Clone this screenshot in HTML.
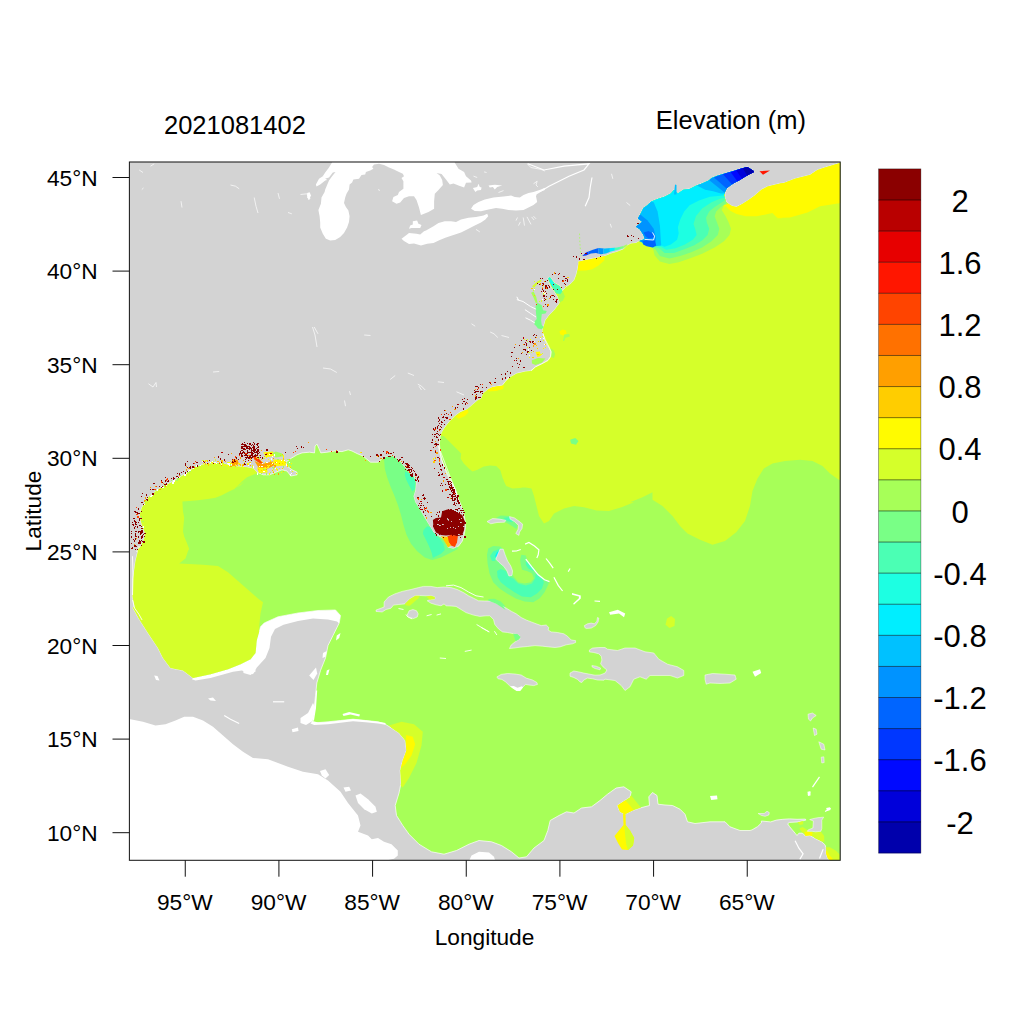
<!DOCTYPE html>
<html lang="en"><head><meta charset="utf-8"><title>Elevation (m) 2021081402</title>
<style>html,body{margin:0;padding:0;background:#fff}svg{display:block}</style></head>
<body>
<svg width="1024" height="1024" viewBox="0 0 1024 1024" font-family="'Liberation Sans', sans-serif">
<rect width="1024" height="1024" fill="#fff"/>
<defs><clipPath id="fr"><rect x="129.40" y="162.00" width="710.80" height="698.30"/></clipPath>
<clipPath id="oc"><path d="M340.5 615.5 L335.5 610.0 L318.0 610.5 L298.0 613.0 L278.0 616.8 L264.2 623.0 L260.5 626.8 L256.8 640.5 L255.5 653.0 L250.5 659.2 L240.5 664.2 L228.0 669.2 L210.5 674.2 L193.0 678.0 L183.0 670.5 L170.5 668.0 L163.0 658.0 L158.0 648.0 L148.0 633.0 L139.2 619.2 L133.0 608.0 L134.2 606.0 L132.5 596.0 L133.0 578.5 L135.5 561.0 L139.2 546.0 L136.8 552.0 L140.5 546.5 L144.2 539.0 L144.9 532.8 L142.4 526.5 L140.5 520.2 L139.9 514.0 L141.8 507.8 L145.5 501.5 L149.2 496.5 L155.5 491.5 L161.8 487.1 L169.2 483.4 L176.8 479.6 L183.0 475.2 L189.2 470.9 L195.5 467.1 L203.0 464.6 L210.5 463.4 L218.0 463.0 L225.5 464.0 L231.8 465.9 L232.0 466.0 L239.5 466.6 L247.0 467.2 L253.2 468.5 L257.0 472.2 L263.2 474.8 L269.5 474.8 L275.8 472.2 L282.0 469.8 L287.0 471.0 L290.8 476.0 L297.0 474.8 L297.0 472.2 L292.0 469.8 L287.0 466.0 L285.8 462.2 L290.8 458.5 L297.0 454.8 L302.0 452.9 L309.5 452.2 L314.5 452.9 L315.1 446.0 L317.0 444.1 L318.9 448.5 L320.8 452.9 L327.0 452.2 L334.5 451.0 L342.0 451.6 L348.2 449.8 L352.0 451.0 L357.0 453.5 L360.0 454.8 L363.0 456.0 L370.5 462.2 L378.0 462.2 L379.8 460.6 L384.8 457.5 L389.8 455.6 L394.8 456.9 L399.8 461.2 L404.8 467.5 L409.8 473.1 L413.5 476.2 L416.0 482.5 L415.4 490.0 L413.5 496.2 L415.4 502.5 L419.1 508.1 L422.2 513.8 L426.0 520.0 L429.8 526.2 L433.5 532.5 L438.5 536.2 L443.5 538.8 L446.0 543.8 L447.9 547.5 L453.5 548.8 L458.5 546.2 L462.2 541.2 L464.1 535.0 L465.4 527.5 L465.0 520.0 L463.5 512.5 L461.0 505.0 L457.9 497.5 L455.4 490.0 L452.2 482.5 L448.5 475.0 L444.8 467.5 L441.6 460.0 L439.8 452.5 L438.5 446.2 L457.5 496.0 L455.0 488.5 L451.2 482.2 L447.5 474.8 L444.4 467.2 L441.9 459.8 L440.0 451.0 L439.4 443.5 L440.0 437.2 L441.9 432.2 L445.0 427.2 L450.0 421.0 L455.0 416.0 L460.0 412.2 L467.5 409.1 L472.5 404.8 L477.5 400.4 L481.2 398.5 L483.1 393.5 L487.5 389.8 L492.5 387.2 L502.5 385.4 L505.0 382.2 L508.8 377.2 L503.0 385.2 L505.5 381.5 L510.5 377.1 L516.8 373.4 L525.5 371.5 L530.5 370.9 L535.5 367.1 L541.8 364.0 L548.0 360.2 L550.5 356.5 L551.1 351.5 L549.2 347.8 L546.8 344.0 L544.9 339.0 L543.6 334.0 L542.4 330.2 L543.6 326.5 L545.5 320.2 L549.2 315.2 L554.2 310.2 L558.0 305.2 L559.9 302.8 L558.0 297.1 L554.9 292.1 L551.1 286.5 L547.8 278.4 L549.9 277.1 L554.2 282.8 L559.9 285.9 L562.6 290.9 L565.5 287.8 L570.5 284.0 L574.2 280.2 L576.1 275.2 L577.4 270.2 L578.6 264.0 L578.5 261.8 L586.0 259.9 L596.0 258.0 L604.8 256.1 L611.0 253.6 L617.2 251.8 L623.5 249.2 L627.2 245.5 L631.0 243.6 L636.0 243.0 L639.8 240.8 L642.2 239.9 L644.8 239.2 L643.5 234.9 L639.8 229.2 L636.0 226.8 L642.2 221.8 L637.9 218.6 L641.0 213.0 L643.5 208.0 L647.4 205.3 L651.3 201.4 L657.6 199.1 L664.6 196.7 L670.9 193.6 L674.0 189.7 L677.9 193.6 L683.4 189.7 L689.6 188.9 L695.9 185.8 L702.1 183.4 L709.2 180.3 L711.5 178.0 L717.8 175.6 L725.6 173.3 L733.4 170.9 L741.2 168.6 L747.4 167.0 L749.8 168.6 L753.7 170.9 L753.7 172.2 L749.0 174.4 L744.3 177.2 L739.6 180.3 L733.4 183.4 L727.1 188.1 L724.8 192.8 L724.8 197.5 L726.3 202.2 L731.8 206.1 L736.5 206.9 L742.8 203.8 L749.0 199.8 L755.2 195.2 L761.5 189.7 L767.8 186.6 L774.0 185.0 L780.2 183.4 L784.0 183.1 L795.0 178.8 L810.0 175.0 L817.5 170.0 L825.0 167.5 L840.0 163.0 L842.0 160.0 L842.0 862.0 L830.7 861.3 L827.9 858.5 L826.1 853.8 L826.1 849.1 L825.1 844.9 L821.4 841.6 L815.7 838.8 L810.1 835.5 L805.4 836.0 L802.6 833.2 L798.9 833.2 L797.0 835.5 L795.1 833.2 L792.3 829.9 L789.5 826.6 L787.6 823.8 L789.5 822.4 L797.9 821.9 L805.9 820.1 L805.4 819.1 L797.0 819.3 L789.5 818.9 L782.9 819.3 L776.4 820.1 L770.7 821.9 L761.4 821.0 L761.4 822.9 L757.6 826.6 L752.0 829.9 L750.0 830.5 L740.0 830.5 L730.0 826.8 L725.0 821.8 L710.0 821.8 L695.0 823.5 L687.5 821.8 L685.0 814.2 L680.0 809.2 L672.5 805.5 L665.0 805.0 L658.0 804.2 L657.0 795.5 L652.5 792.5 L648.8 796.8 L649.5 805.5 L640.0 808.0 L632.5 810.5 L625.0 814.2 L620.0 811.8 L617.5 805.5 L625.0 800.5 L630.0 797.2 L631.2 791.8 L623.8 786.8 L616.2 788.0 L607.5 794.2 L600.0 800.5 L591.5 806.8 L581.5 808.0 L574.0 813.0 L566.5 811.8 L559.0 815.5 L550.2 820.5 L547.8 830.5 L544.0 840.5 L534.0 848.0 L526.5 856.8 L519.0 858.0 L511.5 851.8 L501.5 845.5 L491.5 841.8 L479.0 840.5 L469.0 844.2 L456.5 850.5 L444.0 854.2 L431.5 851.8 L419.0 844.2 L409.0 834.2 L402.8 825.5 L396.5 815.5 L395.2 805.5 L399.0 793.0 L401.0 783.0 L400.2 770.5 L402.8 760.5 L406.5 750.5 L405.2 740.5 L399.0 733.0 L391.5 728.0 L384.0 723.5 L378.0 721.8 L365.5 720.5 L353.0 719.2 L340.5 720.5 L328.0 721.8 L313.0 723.0 L311.8 720.5 L314.2 708.0 L315.5 695.5 L316.8 683.0 L320.5 670.5 L325.5 658.0 L328.0 645.5 L333.0 635.5 L339.2 623.0Z"/></clipPath></defs>
<g clip-path="url(#fr)" shape-rendering="geometricPrecision">
<rect x="129.40" y="162.00" width="710.80" height="698.30" fill="#D3D3D3"/>
<path d="M332.8 161.2 L329.0 167.5 L325.2 172.5 L322.8 176.2 L324.6 178.8 L329.0 177.5 L332.8 172.5 L335.5 171.9 L332.1 176.2 L329.0 180.6 L327.1 185.0 L325.2 189.4 L324.6 191.9 L321.5 197.5 L320.9 203.8 L318.4 210.0 L319.6 216.2 L320.2 222.5 L320.2 227.5 L322.8 233.8 L325.9 238.8 L330.2 240.6 L335.2 240.0 L340.2 236.9 L344.0 233.1 L347.1 227.5 L349.0 221.9 L349.6 216.2 L348.4 210.6 L345.9 206.9 L344.0 203.1 L345.2 197.5 L346.5 193.8 L349.0 189.4 L349.6 184.4 L352.1 182.5 L353.4 179.4 L359.0 178.8 L361.5 175.0 L365.2 174.4 L365.9 171.9 L370.2 170.6 L373.4 168.8 L372.1 166.9 L374.0 164.4 L379.0 163.8 L384.0 165.0 L389.0 167.5 L394.0 169.4 L399.0 171.9 L402.8 173.8 L404.0 176.2 L401.5 178.1 L403.4 181.2 L403.4 188.8 L399.0 191.9 L397.8 195.0 L393.4 196.9 L392.1 201.2 L396.5 203.8 L400.2 202.5 L404.0 198.1 L409.0 196.2 L414.0 196.2 L416.5 200.0 L419.0 207.5 L420.9 215.0 L421.0 215.0 L428.5 211.9 L434.1 208.8 L434.1 201.2 L434.8 193.8 L438.5 190.0 L442.9 185.0 L442.2 180.0 L439.8 175.6 L436.6 173.1 L441.6 174.0 L446.0 179.4 L449.8 184.4 L453.5 183.5 L458.5 185.6 L464.1 187.5 L466.0 182.8 L471.6 182.5 L471.0 180.6 L466.0 176.2 L464.1 171.9 L458.5 168.8 L454.8 162.8 L454.8 161.2Z" fill="#fff"/>
<path d="M315.9 184.4 L319.0 178.8 L322.8 176.2 L327.1 180.0 L325.2 180.6 L320.2 184.4 L316.5 186.5Z" fill="#fff"/>
<path d="M307.1 193.1 L309.6 192.2 L311.0 195.6 L309.0 200.0 L307.2 197.5Z" fill="#fff"/>
<path d="M412.8 221.2 L417.1 220.6 L418.4 223.8 L421.5 225.0 L420.2 228.1 L415.2 228.1 L411.5 228.1 L409.0 228.8 L410.2 225.6 L412.8 224.4Z" fill="#fff"/>
<path d="M401.5 238.8 L406.5 235.0 L409.0 233.1 L416.5 233.8 L420.2 234.4 L424.0 231.2 L426.0 230.6 L433.5 226.2 L438.5 223.1 L444.8 221.2 L451.0 221.2 L456.0 221.9 L461.0 219.4 L468.5 217.8 L476.0 216.9 L483.5 215.6 L487.2 213.8 L488.2 216.2 L485.4 219.4 L481.0 222.5 L474.8 225.6 L468.5 228.8 L461.0 232.5 L453.5 235.0 L446.0 237.5 L439.8 240.0 L433.5 243.1 L427.2 243.8 L421.0 245.6 L414.0 243.4 L409.0 244.0 L404.0 241.0Z" fill="#fff"/>
<path d="M471.0 208.8 L473.5 205.0 L478.5 201.9 L484.8 199.4 L493.5 197.5 L503.5 196.5 L511.0 195.6 L514.8 196.9 L519.8 197.5 L523.5 195.0 L528.5 193.1 L533.5 191.9 L541.0 189.4 L544.8 187.8 L544.8 190.0 L537.2 193.1 L536.0 196.2 L537.2 201.9 L533.5 205.0 L528.5 207.5 L523.5 210.0 L516.0 210.6 L508.5 210.0 L502.2 208.8 L496.0 208.1 L488.5 209.4 L481.0 211.2 L474.8 211.0Z" fill="#fff"/>
<path d="M472.9 188.1 L477.2 186.9 L478.5 183.8 L479.8 186.9 L481.6 187.5 L481.0 190.0 L477.2 190.6 L475.4 191.9 L474.1 190.0Z" fill="#fff"/>
<path d="M488.5 185.6 L494.8 184.8 L502.2 185.4 L497.2 186.9 L494.8 189.4 L492.9 186.9 L489.8 187.5Z" fill="#fff"/>
<path d="M125.5 719.2 L130.5 719.2 L143.0 721.8 L155.5 725.5 L165.5 724.2 L175.5 720.5 L184.2 716.8 L193.0 716.8 L203.0 720.5 L213.0 726.8 L223.0 735.5 L233.0 744.2 L243.0 751.8 L253.0 758.0 L268.0 759.2 L278.0 763.0 L288.0 766.8 L303.0 771.8 L318.0 774.2 L328.0 780.5 L340.5 791.8 L348.0 803.0 L358.0 815.5 L360.5 825.5 L358.0 831.8 L368.0 835.5 L371.8 839.2 L378.0 838.0 L384.0 841.8 L391.5 844.2 L397.8 850.5 L397.8 855.5 L394.0 858.8 L384.0 861.0 L125.5 863.0Z" fill="#fff"/>
<path d="M469.0 861.0 L471.5 855.5 L479.0 851.8 L489.0 852.5 L494.0 856.8 L495.2 861.0Z" fill="#fff"/>
<path d="M340.5 615.5 L335.5 610.0 L318.0 610.5 L298.0 613.0 L278.0 616.8 L264.2 623.0 L260.5 626.8 L256.8 640.5 L255.5 653.0 L250.5 659.2 L240.5 664.2 L228.0 669.2 L210.5 674.2 L193.0 678.0 L191.8 679.2 L195.5 680.5 L210.5 678.0 L233.0 671.8 L241.8 670.5 L253.0 674.2 L256.8 667.5 L265.5 658.0 L269.5 648.0 L271.0 636.8 L275.0 629.0 L283.5 624.8 L298.0 621.0 L313.0 618.5 L328.0 619.5 L337.0 621.5 L339.2 623.5Z" fill="#fff"/>
<path d="M340.5 615.5 L335.5 610.0 L318.0 610.5 L298.0 613.0 L278.0 616.8 L264.2 623.0 L260.5 626.8 L256.8 640.5 L255.5 653.0 L250.5 659.2 L240.5 664.2 L228.0 669.2 L210.5 674.2 L193.0 678.0 L183.0 670.5 L170.5 668.0 L163.0 658.0 L158.0 648.0 L148.0 633.0 L139.2 619.2 L133.0 608.0 L134.2 606.0 L132.5 596.0 L133.0 578.5 L135.5 561.0 L139.2 546.0 L136.8 552.0 L140.5 546.5 L144.2 539.0 L144.9 532.8 L142.4 526.5 L140.5 520.2 L139.9 514.0 L141.8 507.8 L145.5 501.5 L149.2 496.5 L155.5 491.5 L161.8 487.1 L169.2 483.4 L176.8 479.6 L183.0 475.2 L189.2 470.9 L195.5 467.1 L203.0 464.6 L210.5 463.4 L218.0 463.0 L225.5 464.0 L231.8 465.9 L232.0 466.0 L239.5 466.6 L247.0 467.2 L253.2 468.5 L257.0 472.2 L263.2 474.8 L269.5 474.8 L275.8 472.2 L282.0 469.8 L287.0 471.0 L290.8 476.0 L297.0 474.8 L297.0 472.2 L292.0 469.8 L287.0 466.0 L285.8 462.2 L290.8 458.5 L297.0 454.8 L302.0 452.9 L309.5 452.2 L314.5 452.9 L315.1 446.0 L317.0 444.1 L318.9 448.5 L320.8 452.9 L327.0 452.2 L334.5 451.0 L342.0 451.6 L348.2 449.8 L352.0 451.0 L357.0 453.5 L360.0 454.8 L363.0 456.0 L370.5 462.2 L378.0 462.2 L379.8 460.6 L384.8 457.5 L389.8 455.6 L394.8 456.9 L399.8 461.2 L404.8 467.5 L409.8 473.1 L413.5 476.2 L416.0 482.5 L415.4 490.0 L413.5 496.2 L415.4 502.5 L419.1 508.1 L422.2 513.8 L426.0 520.0 L429.8 526.2 L433.5 532.5 L438.5 536.2 L443.5 538.8 L446.0 543.8 L447.9 547.5 L453.5 548.8 L458.5 546.2 L462.2 541.2 L464.1 535.0 L465.4 527.5 L465.0 520.0 L463.5 512.5 L461.0 505.0 L457.9 497.5 L455.4 490.0 L452.2 482.5 L448.5 475.0 L444.8 467.5 L441.6 460.0 L439.8 452.5 L438.5 446.2 L457.5 496.0 L455.0 488.5 L451.2 482.2 L447.5 474.8 L444.4 467.2 L441.9 459.8 L440.0 451.0 L439.4 443.5 L440.0 437.2 L441.9 432.2 L445.0 427.2 L450.0 421.0 L455.0 416.0 L460.0 412.2 L467.5 409.1 L472.5 404.8 L477.5 400.4 L481.2 398.5 L483.1 393.5 L487.5 389.8 L492.5 387.2 L502.5 385.4 L505.0 382.2 L508.8 377.2 L503.0 385.2 L505.5 381.5 L510.5 377.1 L516.8 373.4 L525.5 371.5 L530.5 370.9 L535.5 367.1 L541.8 364.0 L548.0 360.2 L550.5 356.5 L551.1 351.5 L549.2 347.8 L546.8 344.0 L544.9 339.0 L543.6 334.0 L542.4 330.2 L543.6 326.5 L545.5 320.2 L549.2 315.2 L554.2 310.2 L558.0 305.2 L559.9 302.8 L558.0 297.1 L554.9 292.1 L551.1 286.5 L547.8 278.4 L549.9 277.1 L554.2 282.8 L559.9 285.9 L562.6 290.9 L565.5 287.8 L570.5 284.0 L574.2 280.2 L576.1 275.2 L577.4 270.2 L578.6 264.0 L578.5 261.8 L586.0 259.9 L596.0 258.0 L604.8 256.1 L611.0 253.6 L617.2 251.8 L623.5 249.2 L627.2 245.5 L631.0 243.6 L636.0 243.0 L639.8 240.8 L642.2 239.9 L644.8 239.2 L643.5 234.9 L639.8 229.2 L636.0 226.8 L642.2 221.8 L637.9 218.6 L641.0 213.0 L643.5 208.0 L647.4 205.3 L651.3 201.4 L657.6 199.1 L664.6 196.7 L670.9 193.6 L674.0 189.7 L677.9 193.6 L683.4 189.7 L689.6 188.9 L695.9 185.8 L702.1 183.4 L709.2 180.3 L711.5 178.0 L717.8 175.6 L725.6 173.3 L733.4 170.9 L741.2 168.6 L747.4 167.0 L749.8 168.6 L753.7 170.9 L753.7 172.2 L749.0 174.4 L744.3 177.2 L739.6 180.3 L733.4 183.4 L727.1 188.1 L724.8 192.8 L724.8 197.5 L726.3 202.2 L731.8 206.1 L736.5 206.9 L742.8 203.8 L749.0 199.8 L755.2 195.2 L761.5 189.7 L767.8 186.6 L774.0 185.0 L780.2 183.4 L784.0 183.1 L795.0 178.8 L810.0 175.0 L817.5 170.0 L825.0 167.5 L840.0 163.0 L842.0 160.0 L842.0 862.0 L830.7 861.3 L827.9 858.5 L826.1 853.8 L826.1 849.1 L825.1 844.9 L821.4 841.6 L815.7 838.8 L810.1 835.5 L805.4 836.0 L802.6 833.2 L798.9 833.2 L797.0 835.5 L795.1 833.2 L792.3 829.9 L789.5 826.6 L787.6 823.8 L789.5 822.4 L797.9 821.9 L805.9 820.1 L805.4 819.1 L797.0 819.3 L789.5 818.9 L782.9 819.3 L776.4 820.1 L770.7 821.9 L761.4 821.0 L761.4 822.9 L757.6 826.6 L752.0 829.9 L750.0 830.5 L740.0 830.5 L730.0 826.8 L725.0 821.8 L710.0 821.8 L695.0 823.5 L687.5 821.8 L685.0 814.2 L680.0 809.2 L672.5 805.5 L665.0 805.0 L658.0 804.2 L657.0 795.5 L652.5 792.5 L648.8 796.8 L649.5 805.5 L640.0 808.0 L632.5 810.5 L625.0 814.2 L620.0 811.8 L617.5 805.5 L625.0 800.5 L630.0 797.2 L631.2 791.8 L623.8 786.8 L616.2 788.0 L607.5 794.2 L600.0 800.5 L591.5 806.8 L581.5 808.0 L574.0 813.0 L566.5 811.8 L559.0 815.5 L550.2 820.5 L547.8 830.5 L544.0 840.5 L534.0 848.0 L526.5 856.8 L519.0 858.0 L511.5 851.8 L501.5 845.5 L491.5 841.8 L479.0 840.5 L469.0 844.2 L456.5 850.5 L444.0 854.2 L431.5 851.8 L419.0 844.2 L409.0 834.2 L402.8 825.5 L396.5 815.5 L395.2 805.5 L399.0 793.0 L401.0 783.0 L400.2 770.5 L402.8 760.5 L406.5 750.5 L405.2 740.5 L399.0 733.0 L391.5 728.0 L384.0 723.5 L378.0 721.8 L365.5 720.5 L353.0 719.2 L340.5 720.5 L328.0 721.8 L313.0 723.0 L311.8 720.5 L314.2 708.0 L315.5 695.5 L316.8 683.0 L320.5 670.5 L325.5 658.0 L328.0 645.5 L333.0 635.5 L339.2 623.0Z" fill="#A7FF58" stroke="#fff" stroke-width="0.7"/>
<g clip-path="url(#oc)">
<path d="M257.0 472.9 L253.2 474.8 L247.0 477.2 L242.0 481.6 L237.0 486.6 L232.0 491.0 L250.5 476.5 L245.5 480.2 L240.5 485.2 L234.2 489.0 L228.0 492.1 L221.8 495.2 L215.5 497.8 L208.0 499.0 L198.0 500.2 L189.2 500.9 L182.4 501.5 L183.0 511.5 L184.2 517.8 L183.6 524.0 L183.0 531.5 L184.2 536.5 L186.8 542.8 L189.2 549.0 L188.0 551.0 L185.5 558.5 L179.2 563.5 L203.0 564.8 L218.0 566.0 L228.0 572.2 L238.0 581.0 L248.0 589.8 L258.0 598.5 L263.0 602.2 L260.5 613.5 L259.2 626.0 L259.2 633.5 L256.8 640.5 L256.8 670.5 L228.0 683.0 L178.0 690.5 L128.0 658.0 L123.0 591.0 L123.0 453.5 L190.5 446.0 L240.5 446.0 L255.5 461.0Z" fill="#D5FF2A"/>
<path d="M437.5 434.8 L440.6 436.0 L443.8 436.0 L447.5 439.8 L452.5 444.8 L457.5 449.8 L461.2 453.5 L460.6 458.5 L463.8 463.5 L468.8 468.5 L472.5 471.6 L477.5 469.8 L483.8 466.6 L490.0 465.4 L496.2 466.0 L500.0 469.8 L502.5 474.8 L503.8 481.0 L506.2 486.0 L512.5 488.5 L520.0 487.9 L528.0 486.6 L500.2 469.8 L502.8 478.5 L506.5 484.8 L514.0 488.5 L524.0 487.2 L531.5 488.5 L534.0 496.0 L536.5 506.0 L539.0 516.0 L544.0 523.5 L549.0 521.0 L554.0 513.5 L564.0 508.5 L574.0 506.0 L584.0 507.2 L596.5 510.5 L609.0 511.0 L621.5 507.2 L634.0 502.2 L630.0 502.2 L642.5 497.2 L652.5 492.2 L652.5 499.8 L662.5 506.0 L672.5 516.0 L680.0 526.0 L687.5 533.5 L700.0 539.8 L712.5 544.8 L725.0 541.0 L736.2 532.2 L745.0 521.0 L750.0 506.0 L752.5 491.0 L757.5 478.5 L763.8 468.5 L772.5 463.5 L785.0 461.0 L800.0 459.8 L812.5 461.0 L822.5 466.0 L830.0 473.5 L838.8 479.8 L845.0 480.5 L845.0 150.0 L440.0 150.0 L400.0 420.0Z" fill="#D5FF2A"/>
<path d="M722.4 206.9 L725.6 206.1 L730.2 210.8 L736.5 213.9 L745.9 216.2 L756.8 216.2 L764.6 214.7 L772.4 213.1 L777.1 217.8 L784.0 218.6 L775.0 218.0 L790.0 217.5 L807.5 212.5 L820.0 206.2 L845.0 202.5 L845.0 160.0 L750.0 160.0 L752.1 169.4 L724.0 191.2Z" fill="#FFFB00"/>
<path d="M652.9 247.5 L654.5 255.3 L659.9 261.6 L669.3 263.9 L678.7 262.3 L689.6 258.4 L702.1 253.8 L714.6 247.5 L724.0 241.2 L729.5 235.0 L731.0 228.8 L728.7 222.5 L725.6 216.2 L721.7 210.0 L724.0 205.3 L727.9 203.8 L724.0 195.2 L727.1 183.4 L756.8 164.7 L702.1 169.4 L663.1 188.1 L633.4 211.6 L630.2 230.3 L643.5 244.1Z" fill="#A7FF58"/>
<path d="M655.2 249.1 L659.9 256.1 L669.3 258.4 L680.2 256.1 L691.2 252.2 L702.1 247.5 L711.5 241.2 L717.8 235.0 L719.3 228.8 L717.0 222.5 L714.6 216.2 L716.2 211.6 L720.9 206.9 L726.3 203.0 L724.0 195.2 L727.1 183.4 L756.8 164.7 L702.1 169.4 L663.1 188.1 L633.4 211.6 L630.2 230.3 L643.5 244.1Z" fill="#79FF86"/>
<path d="M659.2 248.3 L664.6 253.0 L674.0 253.0 L684.9 249.1 L694.3 245.2 L702.1 240.5 L707.6 235.0 L709.2 228.8 L706.8 222.5 L706.0 217.8 L709.2 211.6 L714.6 206.9 L720.9 203.0 L725.6 199.8 L724.0 195.2 L727.1 183.4 L756.8 164.7 L702.1 169.4 L663.1 188.1 L633.4 211.6 L630.2 230.3 L643.5 244.1Z" fill="#4BFFB4"/>
<path d="M660.7 246.7 L666.2 249.8 L675.6 248.3 L684.9 244.4 L692.8 239.7 L696.7 235.0 L695.1 228.8 L693.5 224.1 L695.9 216.2 L702.1 208.4 L711.5 202.2 L719.3 199.1 L724.8 197.5 L724.0 195.2 L727.1 183.4 L756.8 164.7 L702.1 169.4 L663.1 188.1 L633.4 211.6 L630.2 230.3 L643.5 244.1Z" fill="#1DFFE2"/>
<path d="M660.7 245.2 L664.6 246.7 L670.9 244.4 L677.1 239.7 L678.7 233.4 L677.9 227.2 L680.2 219.4 L684.2 211.6 L689.6 205.3 L699.0 200.6 L709.9 196.7 L717.8 195.9 L724.8 195.2 L724.0 195.2 L727.1 183.4 L756.8 164.7 L702.1 169.4 L663.1 188.1 L633.4 211.6 L630.2 230.3 L643.5 244.1Z" fill="#00EEFF"/>
<path d="M653.7 202.2 L657.6 211.6 L659.9 225.6 L661.2 245.6 L655.2 246.2 L645.9 243.6 L639.6 241.2 L630.2 230.3 L630.2 214.7 L642.8 199.1Z" fill="#00C1FF"/>
<path d="M639.6 213.9 L647.4 220.2 L653.7 228.8 L656.0 238.1 L655.2 246.2 L645.9 243.6 L639.6 241.2 L630.2 230.3 L630.2 214.7Z" fill="#0093FF"/>
<path d="M697.4 185.8 L705.2 189.7 L713.1 191.2 L720.9 193.6 L725.6 193.6 L733.4 185.0 L764.6 163.1 L764.6 156.9 L733.4 156.9 L694.3 175.6Z" fill="#00C1FF"/>
<path d="M708.4 179.5 L724.8 192.8 L771.7 175.6 L755.2 162.3Z" fill="#0093FF"/>
<path d="M713.8 177.2 L727.1 188.9 L774.0 171.7 L760.7 160.0Z" fill="#0065FF"/>
<path d="M722.8 174.1 L732.6 185.0 L779.5 167.8 L769.6 156.9Z" fill="#0037FF"/>
<path d="M730.7 172.2 L738.1 182.2 L784.9 165.0 L777.6 155.0Z" fill="#0009FF"/>
<path d="M736.2 170.2 L742.8 180.0 L789.6 162.8 L783.1 153.0Z" fill="#0000DA"/>
<path d="M742.4 167.8 L748.2 176.9 L795.1 159.7 L789.3 150.6Z" fill="#0000AC"/>
<path d="M634.8 226.8 L639.8 223.6 L644.8 224.2 L649.1 228.0 L652.9 232.4 L654.8 236.8 L655.4 239.9 L647.2 239.0 L643.5 234.9 L639.8 229.2Z" fill="#0093FF"/>
<path d="M643.5 232.4 L648.5 231.1 L652.9 233.6 L654.1 237.4 L648.5 238.5 L645.4 236.1Z" fill="#0065FF"/>
<path d="M642.5 241.5 L646.0 240.2 L654.8 240.5 L656.2 245.5 L652.9 247.5 L646.6 246.2 L643.2 244.5Z" fill="#0065FF"/>
<path d="M644.5 239.4 L653.5 240.0 L654.6 236.2 L652.5 232.5" fill="none" stroke="#fff" stroke-width="0.9"/>
<path d="M577.9 261.1 L586.0 259.5 L596.0 257.6 L605.0 256.1 L604.1 260.5 L598.5 265.5 L592.2 269.2 L586.0 270.5 L577.9 270.8Z" fill="#FFFB00"/>
<path d="M558.6 292.1 L563.0 292.1 L564.9 296.5 L563.0 300.2 L559.9 302.8 L558.2 299.0Z" fill="#A7FF58"/>
<path d="M550.5 282.8 L554.2 282.8 L559.9 285.9 L562.6 290.9 L560.5 294.0 L556.1 293.4 L552.4 287.8Z" fill="#4BFFB4"/>
<path d="M547.4 277.1 L550.5 277.1 L554.9 284.0 L552.4 287.1 L549.9 282.8Z" fill="#1DFFE2"/>
<path d="M549.9 347.8 L553.6 350.2 L555.1 354.0 L553.9 358.0 L551.1 357.1 L551.1 351.5Z" fill="#A7FF58"/>
<path d="M559.5 331.5 L562.4 329.6 L566.1 330.5 L566.5 334.0 L563.0 335.5 L560.2 334.2Z" fill="#FFFB00"/>
<path d="M564.2 334.6 L569.2 334.0 L569.9 336.5 L565.5 337.8 L564.2 340.9 L563.0 340.9Z" fill="#A7FF58"/>
<path d="M488.0 387.8 L495.5 385.9 L503.6 385.5 L503.0 389.0 L495.5 390.9 L488.0 391.5Z" fill="#FFFB00"/>
<path d="M455.6 416.6 L460.0 412.9 L467.5 409.5 L468.5 412.2 L465.0 416.0 L458.8 418.8Z" fill="#FFFB00"/>
<path d="M489.4 388.5 L495.0 386.6 L504.0 385.8 L502.8 388.5 L496.2 390.8 L491.9 390.0Z" fill="#FFFB00"/>
<path d="M368.5 458.8 L384.1 460.0 L384.8 468.8 L387.2 477.5 L390.4 486.2 L394.1 495.0 L397.9 505.0 L401.0 515.0 L403.5 525.0 L406.6 535.0 L411.0 543.8 L417.2 551.2 L424.8 557.5 L432.2 560.0 L441.0 557.5 L451.0 552.5 L457.9 549.0 L456.0 540.0 L446.0 527.5 L432.2 502.5 L426.0 477.5 L407.2 453.8 L376.0 447.5Z" fill="#79FF86"/>
<path d="M404.8 471.2 L409.8 473.8 L413.5 476.9 L415.0 482.5 L414.4 490.0 L411.6 488.8 L408.5 482.5 L406.0 477.5Z" fill="#4BFFB4"/>
<path d="M423.5 530.0 L427.2 526.2 L431.0 527.5 L434.8 533.8 L439.8 538.8 L443.5 543.8 L444.8 550.0 L441.0 553.8 L436.0 556.2 L432.9 558.1 L431.6 552.5 L428.5 545.0 L425.4 538.8 L422.9 533.8Z" fill="#4BFFB4"/>
<path d="M405.0 472.2 L408.8 473.2 L412.5 475.4 L415.0 479.8 L414.8 488.5 L412.5 491.6 L409.4 486.0 L406.2 479.8 L404.8 474.8Z" fill="#4BFFB4"/>
<path d="M488.2 548.5 L493.2 546.0 L500.1 546.6 L503.2 549.1 L513.2 576.0 L518.2 582.2 L524.5 583.5 L530.8 582.2 L533.9 578.5 L532.0 573.5 L527.0 571.0 L522.0 569.8 L520.8 564.8 L520.1 559.8 L521.4 554.8 L525.8 555.4 L527.0 559.8 L530.8 564.1 L534.5 568.5 L538.2 573.5 L543.2 578.5 L549.5 581.6 L548.2 584.8 L544.5 592.2 L539.5 598.5 L533.2 602.2 L524.5 601.6 L515.8 598.5 L507.0 593.5 L499.5 588.5 L493.2 582.2 L489.5 573.5 L487.6 563.5 L487.0 554.8Z" fill="#79FF86"/>
<path d="M497.0 571.0 L500.8 569.1 L505.8 571.0 L508.2 576.0 L513.2 578.5 L518.2 583.5 L525.8 585.4 L532.0 583.5 L535.1 578.5 L535.8 573.5 L542.0 578.5 L543.9 582.2 L542.0 588.5 L537.0 593.5 L530.8 597.2 L522.0 596.6 L514.5 592.2 L507.0 587.2 L500.8 582.2 L497.6 577.2Z" fill="#4BFFB4"/>
<path d="M490.1 556.0 L493.2 551.6 L498.9 549.1 L500.5 551.0 L497.0 556.0 L495.1 561.0 L492.0 561.0Z" fill="#4BFFB4"/>
<path d="M495.1 556.0 L497.0 552.2 L499.8 550.4 L498.9 554.1 L496.4 557.9Z" fill="#00EEFF"/>
<path d="M525.8 561.0 L529.5 564.1 L534.5 569.8 L533.2 571.0 L528.2 568.5 L525.8 564.8Z" fill="#4BFFB4"/>
<path d="M495.8 517.9 L500.8 515.4 L509.5 516.0 L514.5 521.0 L517.6 526.0 L516.4 529.1 L512.0 526.0 L507.0 522.9 L502.0 520.4Z" fill="#79FF86"/>
<path d="M503.2 517.9 L509.5 517.0 L513.2 520.4 L512.0 522.2 L507.0 521.0Z" fill="#4BFFB4"/>
<path d="M488.2 599.1 L494.5 598.8 L500.8 601.6 L505.1 606.0 L504.8 609.1 L500.1 604.8 L494.5 601.6 L488.9 600.8Z" fill="#79FF86"/>
<path d="M570.2 439.8 L575.2 438.0 L578.5 441.0 L576.0 444.8 L571.0 443.5Z" fill="#79FF86"/>
<path d="M667.0 618.5 L671.2 616.0 L675.0 619.0 L674.5 626.0 L669.5 628.0 L665.5 624.8Z" fill="#D5FF2A"/>
<path d="M389.0 725.5 L401.5 721.8 L414.0 724.2 L422.8 731.8 L421.5 745.5 L416.5 763.0 L409.0 778.0 L402.8 787.5 L397.8 783.0 L396.5 758.0 L401.5 738.0Z" fill="#D5FF2A"/>
<path d="M406.0 735.0 L412.8 736.8 L415.2 744.2 L411.5 755.5 L405.2 764.2 L399.5 769.2 L402.0 758.0 L406.0 748.0Z" fill="#FFFB00"/>
<path d="M615.0 805.5 L625.0 798.5 L631.2 795.5 L641.2 808.0 L632.5 811.8 L625.0 815.5 L618.8 813.0Z" fill="#D5FF2A"/>
<path d="M616.2 805.5 L625.0 800.0 L630.0 805.5 L633.8 810.5 L625.0 815.5 L618.8 813.0Z" fill="#FFFB00"/>
<path d="M797.5 821.9 L803.1 821.0 L803.1 824.3 L799.8 824.9Z" fill="#D5FF2A"/>
<path d="M799.3 828.5 L802.6 827.1 L807.3 829.9 L808.2 832.2 L802.6 832.7Z" fill="#D5FF2A"/>
<path d="M804.0 832.2 L808.2 831.3 L812.9 832.2 L812.9 836.0 L810.1 836.0 L805.4 836.0Z" fill="#FFFB00"/>
<path d="M812.9 832.2 L820.9 831.8 L824.2 836.0 L824.2 841.6 L821.4 841.6 L815.7 838.8 L812.0 836.0Z" fill="#D5FF2A"/>
<path d="M825.1 847.2 L829.8 847.2 L836.4 851.0 L839.7 854.7 L839.7 860.4 L827.0 860.4Z" fill="#D5FF2A"/>
<path d="M824.7 851.0 L827.0 851.0 L829.8 855.7 L832.6 858.5 L832.2 860.4 L827.0 860.4Z" fill="#FFFB00"/>
</g>
<path d="M376.0 610.1 L381.0 608.2 L384.1 607.0 L384.1 602.0 L388.5 597.0 L394.8 593.9 L402.2 591.4 L411.0 589.5 L418.5 587.6 L423.5 586.4 L431.0 586.4 L437.2 587.6 L443.5 587.0 L451.0 587.6 L457.2 589.5 L463.5 592.6 L468.5 595.8 L473.5 598.2 L478.5 600.8 L484.8 601.0 L491.0 601.0 L496.0 603.2 L501.0 605.8 L506.2 608.1 L511.2 611.2 L516.2 613.8 L521.2 617.5 L526.2 620.0 L531.2 621.9 L536.2 623.8 L541.2 625.6 L546.2 625.0 L548.8 627.5 L548.1 630.0 L551.2 631.9 L557.5 632.5 L563.8 633.8 L567.5 636.2 L571.2 640.0 L575.6 640.6 L575.6 642.5 L572.5 643.8 L566.2 644.8 L560.0 646.9 L555.0 647.5 L548.8 646.9 L542.5 646.2 L535.0 645.6 L527.5 646.5 L520.0 647.2 L513.8 648.1 L509.4 648.5 L511.2 645.0 L515.0 641.9 L520.0 638.8 L518.8 635.0 L513.8 633.8 L507.5 632.5 L502.5 631.9 L498.5 628.9 L494.8 624.5 L493.5 619.5 L489.8 615.8 L486.0 615.8 L479.8 616.4 L473.5 615.1 L466.0 612.6 L461.0 609.5 L456.0 606.4 L451.0 606.0 L446.0 605.8 L444.1 603.9 L441.0 605.8 L436.0 604.8 L431.0 603.2 L427.2 600.8 L429.8 599.8 L434.8 598.9 L434.8 597.0 L431.0 595.8 L426.0 595.8 L419.8 595.5 L415.4 595.8 L409.8 598.9 L404.8 603.9 L398.5 604.5 L393.5 605.1 L391.0 608.2 L386.0 609.5 L382.2 612.0 L376.0 611.4Z" fill="#D3D3D3" stroke="#fff" stroke-width="0.5"/>
<path d="M409.1 610.8 L412.9 609.5 L416.6 610.8 L418.2 613.9 L417.2 617.0 L413.5 618.5 L409.8 617.6 L407.2 615.1Z" fill="#D3D3D3" stroke="#fff" stroke-width="0.5"/>
<path d="M589.4 650.0 L592.5 648.1 L598.8 647.5 L605.0 647.5 L607.5 649.2 L617.5 650.5 L625.0 648.0 L635.0 648.0 L645.0 651.8 L653.8 653.0 L658.8 659.2 L667.5 664.2 L677.5 666.8 L683.8 670.5 L683.8 675.5 L677.5 678.0 L670.0 675.5 L660.0 675.5 L650.0 675.5 L646.2 679.2 L640.0 676.8 L633.8 679.2 L630.0 686.8 L625.0 690.5 L621.2 685.5 L615.0 680.5 L605.0 679.2 L603.8 680.2 L597.5 680.0 L592.5 678.8 L587.5 678.1 L583.8 680.0 L581.9 682.5 L580.0 681.9 L577.5 679.4 L573.8 677.5 L570.0 676.2 L570.0 673.1 L573.8 671.0 L578.8 671.9 L583.8 673.1 L588.8 674.0 L595.0 675.2 L600.0 675.0 L605.0 673.1 L606.9 670.0 L603.1 666.9 L600.6 663.8 L601.9 660.0 L601.2 656.2 L598.8 653.8 L593.8 652.5 L589.4 651.9Z" fill="#D3D3D3" stroke="#fff" stroke-width="0.5"/>
<path d="M591.9 665.6 L596.2 666.2 L600.6 668.1 L600.0 669.8 L595.0 668.5 L592.1 666.9Z" fill="#D3D3D3" stroke="#fff" stroke-width="0.5"/>
<path d="M705.0 675.0 L712.5 673.5 L725.0 674.2 L735.0 675.0 L736.2 679.2 L730.0 683.0 L720.0 683.5 L710.0 683.0 L706.2 684.2 L705.0 679.2Z" fill="#D3D3D3" stroke="#fff" stroke-width="0.5"/>
<path d="M496.9 676.9 L501.2 674.4 L507.5 673.5 L515.0 674.0 L521.2 675.0 L526.2 678.1 L532.5 680.0 L536.9 682.5 L537.5 684.4 L533.8 685.6 L528.8 685.0 L525.6 684.4 L522.5 687.5 L520.0 690.6 L516.9 690.6 L513.1 688.1 L509.4 685.6 L505.6 681.9 L501.9 679.4 L498.1 678.8Z" fill="#D3D3D3" stroke="#fff" stroke-width="0.5"/>
<path d="M809.7 819.6 L812.9 818.7 L817.6 817.7 L823.7 817.2 L821.8 820.1 L821.8 828.5 L820.9 831.3 L815.7 831.8 L812.0 831.3 L807.3 831.3 L808.2 829.9 L812.9 828.0 L813.4 821.0Z" fill="#D3D3D3" stroke="#fff" stroke-width="0.5"/>
<path d="M758.1 813.5 L764.2 813.5 L767.0 811.2 L769.3 812.6 L768.9 814.9 L765.1 816.3 L761.4 815.4Z" fill="#D3D3D3" stroke="#fff" stroke-width="0.5"/>
<path d="M500.1 549.1 L503.2 549.1 L505.1 554.8 L507.6 561.0 L510.8 566.0 L512.6 571.0 L512.0 575.4 L508.9 576.0 L507.0 571.0 L503.9 566.6 L498.9 562.2 L495.8 559.1 L497.6 554.8Z" fill="#D3D3D3" stroke="#fff" stroke-width="0.5"/>
<path d="M487.0 521.6 L492.6 518.5 L499.5 519.1 L505.8 520.4 L504.5 522.2 L497.0 522.5 L490.8 523.8Z" fill="#D3D3D3" stroke="#fff" stroke-width="0.5"/>
<path d="M509.5 516.6 L514.5 517.9 L519.5 521.6 L522.6 524.1 L522.0 528.5 L519.5 532.2 L518.9 535.4 L515.8 533.5 L518.2 529.1 L518.5 525.4 L514.5 521.6 L510.1 519.1Z" fill="#D3D3D3" stroke="#fff" stroke-width="0.5"/>
<path d="M584.4 625.6 L587.5 623.8 L591.2 623.1 L594.4 623.8 L596.9 621.2 L597.5 617.5 L598.8 618.1 L598.1 621.9 L595.6 625.6 L591.2 628.1 L586.2 628.5 L584.8 627.5Z" fill="#D3D3D3" stroke="#fff" stroke-width="0.5"/>
<path d="M808.0 714.2 L812.5 713.0 L816.2 715.5 L812.5 718.0 L810.5 721.0 L808.5 719.2Z" fill="#D3D3D3" stroke="#fff" stroke-width="0.5"/>
<path d="M813.2 728.0 L816.2 729.2 L817.0 734.2 L814.5 735.5Z" fill="#D3D3D3" stroke="#fff" stroke-width="0.5"/>
<path d="M818.8 741.8 L823.8 744.2 L825.0 750.0 L821.2 749.2Z" fill="#D3D3D3" stroke="#fff" stroke-width="0.5"/>
<path d="M821.2 757.2 L823.8 756.8 L824.2 762.5 L821.8 763.0Z" fill="#D3D3D3" stroke="#fff" stroke-width="0.5"/>
<path d="M312.5 721.0 L318.0 722.5 L328.0 722.0 L340.5 720.5 L353.0 719.0 L365.5 720.2 L378.0 721.8 L385.5 723.0 L385.5 724.8 L378.0 723.5 L365.5 722.2 L353.0 721.2 L340.5 722.8 L328.0 724.2 L314.2 725.0 L310.5 723.5Z" fill="#fff"/>
<path d="M342.5 714.0 L349.2 712.0 L360.0 714.5 L359.2 716.5 L350.5 714.5 L343.5 716.0Z" fill="#fff"/>
<path d="M316.0 690.5 L317.2 690.5 L316.0 708.0 L314.0 720.5 L312.5 721.0 L314.2 708.0Z" fill="#fff"/>
<path d="M355.5 795.5 L360.5 793.5 L368.0 799.2 L375.5 806.8 L376.8 811.8 L371.8 813.5 L364.2 809.2 L358.0 803.0Z" fill="#fff"/>
<path d="M343.5 787.5 L349.2 786.8 L351.0 790.5 L345.5 791.8Z" fill="#fff"/>
<path d="M300.5 718.0 L308.0 713.0 L313.0 703.0 L315.5 708.0 L312.5 721.0 L306.0 725.0 L300.5 723.0Z" fill="#fff"/>
<path d="M309.2 675.5 L316.0 667.5 L317.2 673.5 L313.5 680.0Z" fill="#fff"/>
<path d="M291.8 729.2 L298.0 727.5 L298.5 731.0 L292.5 732.2Z" fill="#fff"/>
<path d="M243.0 669.2 L251.8 667.5 L256.0 671.0 L250.5 675.0 L243.5 673.0Z" fill="#fff"/>
<path d="M154.2 675.5 L157.5 676.0 L159.5 680.5 L156.0 680.0Z" fill="#fff"/>
<path d="M208.0 698.5 L213.0 697.5 L216.0 701.0 L210.5 700.5Z" fill="#fff"/>
<path d="M320.0 771.0 L325.5 769.2 L329.2 775.0 L325.5 778.5 L321.8 775.5Z" fill="#fff"/>
<path d="M336.8 635.5 L340.5 633.0 L339.2 638.0 L336.0 640.5Z" fill="#fff"/>
<path d="M323.0 653.0 L326.8 651.0 L325.5 656.8 L322.5 658.0Z" fill="#fff"/>
<path d="M326.8 670.5 L329.5 669.2 L328.0 675.0 L326.0 675.0Z" fill="#fff"/>
<path d="M752.5 671.8 L760.0 669.2 L761.2 673.0 L755.0 676.8Z" fill="#fff"/>
<path d="M710.0 796.0 L717.0 795.5 L717.5 799.2 L711.2 800.0Z" fill="#fff"/>
<path d="M826.2 808.0 L830.0 807.2 L830.5 810.0 L827.0 811.0Z" fill="#fff"/>
<path d="M807.5 791.8 L810.5 791.2 L810.5 795.5 L808.0 796.0Z" fill="#fff"/>
<path d="M609.0 612.2 L617.8 609.8 L625.2 613.5 L624.0 617.2 L619.0 613.5 L610.2 614.8Z" fill="#fff"/>
<path d="M510.0 686.2 L513.8 686.0 L517.5 687.8 L521.9 686.2 L523.1 687.2 L520.2 691.0 L516.6 691.0 L512.8 688.5Z" fill="#fff"/>
<path d="M572.0 592.9 L580.8 595.4 L580.8 598.5 L573.9 604.8 L573.2 603.5 L578.9 598.2 L578.9 596.6 L572.0 594.8Z" fill="#fff"/>
<path d="M594.5 600.4 L600.0 600.8 L600.0 602.0 L594.5 601.6Z" fill="#fff"/>
<path d="M230.5 185.0 L235.5 186.2 L239.2 188.8" fill="none" stroke="#fff" stroke-width="0.7"/>
<path d="M254.2 197.5 L256.0 206.2 L258.0 213.0" fill="none" stroke="#fff" stroke-width="0.7"/>
<path d="M278.0 193.0 L279.5 198.8" fill="none" stroke="#fff" stroke-width="0.7"/>
<path d="M300.5 194.5 L306.8 193.8 L310.0 198.8" fill="none" stroke="#fff" stroke-width="0.7"/>
<path d="M307.5 195.0 L310.0 198.0 L308.5 200.0" fill="none" stroke="#fff" stroke-width="0.7"/>
<path d="M312.5 327.0 L315.0 335.0 L317.0 347.0" fill="none" stroke="#fff" stroke-width="0.7"/>
<path d="M314.2 327.0 L318.0 333.8" fill="none" stroke="#fff" stroke-width="0.7"/>
<path d="M323.0 368.0 L330.5 369.0 L336.8 372.5" fill="none" stroke="#fff" stroke-width="0.7"/>
<path d="M364.2 335.0 L370.5 335.5" fill="none" stroke="#fff" stroke-width="0.7"/>
<path d="M213.0 372.0 L219.2 371.5" fill="none" stroke="#fff" stroke-width="0.7"/>
<path d="M148.5 383.8 L153.0 387.0 L156.0 382.5 L156.5 387.0" fill="none" stroke="#fff" stroke-width="0.7"/>
<path d="M344.5 400.5 L345.5 406.2" fill="none" stroke="#fff" stroke-width="0.7"/>
<path d="M349.5 391.2 L350.5 395.0" fill="none" stroke="#fff" stroke-width="0.7"/>
<path d="M139.2 170.0 L143.0 172.5" fill="none" stroke="#fff" stroke-width="0.7"/>
<path d="M150.5 166.2 L154.2 163.8" fill="none" stroke="#fff" stroke-width="0.7"/>
<path d="M141.8 189.5 L143.5 188.0" fill="none" stroke="#fff" stroke-width="0.7"/>
<path d="M181.0 201.2 L182.0 207.5" fill="none" stroke="#fff" stroke-width="0.7"/>
<path d="M288.0 212.5 L291.8 213.8" fill="none" stroke="#fff" stroke-width="0.7"/>
<path d="M378.0 189.5 L380.0 190.5" fill="none" stroke="#fff" stroke-width="0.7"/>
<path d="M471.5 323.8 L475.2 326.2" fill="none" stroke="#fff" stroke-width="0.7"/>
<path d="M490.2 332.0 L494.0 333.8 L497.8 337.5" fill="none" stroke="#fff" stroke-width="0.7"/>
<path d="M501.5 335.5 L509.0 337.5" fill="none" stroke="#fff" stroke-width="0.7"/>
<path d="M390.2 379.5 L395.2 375.5" fill="none" stroke="#fff" stroke-width="0.7"/>
<path d="M407.8 373.0 L414.0 375.5" fill="none" stroke="#fff" stroke-width="0.7"/>
<path d="M417.8 384.2 L421.5 386.2 L425.2 390.0" fill="none" stroke="#fff" stroke-width="0.7"/>
<path d="M419.0 386.2 L421.5 390.0" fill="none" stroke="#fff" stroke-width="0.7"/>
<path d="M437.8 381.8 L444.0 382.5" fill="none" stroke="#fff" stroke-width="0.7"/>
<path d="M456.5 391.8 L464.0 395.0" fill="none" stroke="#fff" stroke-width="0.7"/>
<path d="M610.2 223.8 L611.5 227.5" fill="none" stroke="#fff" stroke-width="0.7"/>
<path d="M626.5 202.5 L630.2 205.5" fill="none" stroke="#fff" stroke-width="0.7"/>
<path d="M611.5 173.8 L612.8 178.8" fill="none" stroke="#fff" stroke-width="0.7"/>
<path d="M517.5 217.5 L516.0 220.6" fill="none" stroke="#fff" stroke-width="0.7"/>
<path d="M520.4 221.9 L518.5 225.6" fill="none" stroke="#fff" stroke-width="0.7"/>
<path d="M523.2 217.5 L524.5 225.6" fill="none" stroke="#fff" stroke-width="0.7"/>
<path d="M527.0 216.9 L531.0 224.4" fill="none" stroke="#fff" stroke-width="0.7"/>
<path d="M531.6 216.9 L534.1 220.0" fill="none" stroke="#fff" stroke-width="0.7"/>
<path d="M533.5 216.2 L536.0 218.8" fill="none" stroke="#fff" stroke-width="0.7"/>
<path d="M527.2 163.8 L531.0 167.5 L541.0 169.4 L544.8 171.0" fill="none" stroke="#fff" stroke-width="0.7"/>
<path d="M476.0 229.4 L479.8 231.9" fill="none" stroke="#fff" stroke-width="0.7"/>
<path d="M484.1 171.9 L486.6 172.5" fill="none" stroke="#fff" stroke-width="0.7"/>
<path d="M473.5 176.2 L477.2 177.5" fill="none" stroke="#fff" stroke-width="0.7"/>
<path d="M498.5 192.5 L503.5 190.6" fill="none" stroke="#fff" stroke-width="0.7"/>
<path d="M533.5 183.8 L537.2 181.2 L536.0 185.0 L537.9 186.9" fill="none" stroke="#fff" stroke-width="0.7"/>
<path d="M224.2 715.5 L230.5 719.2 L239.2 723.5" fill="none" stroke="#fff" stroke-width="1.2"/>
<path d="M273.0 701.8 L284.2 701.8" fill="none" stroke="#fff" stroke-width="1.2"/>
<path d="M795.1 840.7 L798.9 848.2 L803.1 853.8 L799.8 859.4" fill="none" stroke="#fff" stroke-width="1.2"/>
<path d="M823.2 849.1 L819.5 858.5" fill="none" stroke="#fff" stroke-width="1.2"/>
<path d="M825.1 811.6 L830.7 808.3" fill="none" stroke="#fff" stroke-width="1.2"/>
<path d="M808.2 794.7 L809.9 791.9" fill="none" stroke="#fff" stroke-width="1.2"/>
<path d="M812.5 787.2 L819.5 776.9" fill="none" stroke="#fff" stroke-width="1.2"/>
<path d="M525.8 559.1 L532.0 567.2 L538.2 574.8 L544.5 579.8 L549.5 581.6" fill="none" stroke="#fff" stroke-width="1.2"/>
<path d="M525.1 544.1 L528.9 542.5 L534.5 546.0 L538.9 549.8 L538.2 554.8 L536.8 557.9" fill="none" stroke="#fff" stroke-width="1.2"/>
<path d="M512.0 551.2 L516.4 551.0 L520.8 549.5" fill="none" stroke="#fff" stroke-width="1.2"/>
<path d="M546.0 558.5 L549.5 562.9 L553.2 568.2" fill="none" stroke="#fff" stroke-width="1.2"/>
<path d="M553.9 577.2 L558.2 585.4 L562.6 591.0" fill="none" stroke="#fff" stroke-width="1.2"/>
<path d="M568.2 571.6 L570.1 568.5" fill="none" stroke="#fff" stroke-width="1.2"/>
<path d="M536.5 193.8 L549.0 186.2 L569.0 176.2 L584.0 170.0 L589.0 163.8 L564.0 166.2 L544.0 170.0 L527.8 163.8" fill="none" stroke="#fff" stroke-width="1.2"/>
<path d="M592.0 177.5 L590.2 187.5 L589.0 197.5 L585.2 206.2" fill="none" stroke="#fff" stroke-width="1.2"/>
<path d="M404.8 603.9 L409.8 598.9 L415.4 595.8 L419.8 595.8 L418.5 598.2 L413.5 602.6 L409.8 605.8 L406.0 605.5Z" fill="#D5FF2A"/>
<path d="M426.0 596.4 L431.0 595.8 L434.8 597.0 L434.8 598.9 L429.8 599.8Z" fill="#D5FF2A"/>
<path d="M513.1 633.8 L517.5 634.0 L520.6 636.9 L518.8 639.4 L515.6 641.2 L514.4 637.5Z" fill="#79FF86"/>
<path d="M487.5 600.0 L492.5 599.4 L498.8 602.5 L503.8 606.9 L505.6 610.0 L501.2 606.9 L496.2 603.8 L490.6 601.5Z" fill="#79FF86"/>
<path d="M426.6 615.8 L431.6 614.5" fill="none" stroke="#fff" stroke-width="0.9"/>
<path d="M436.6 615.1 L441.0 613.9" fill="none" stroke="#fff" stroke-width="0.9"/>
<path d="M476.6 624.5 L489.1 632.0" fill="none" stroke="#fff" stroke-width="0.9"/>
<path d="M464.8 651.4 L471.6 650.1" fill="none" stroke="#fff" stroke-width="0.9"/>
<path d="M439.8 658.0 L446.0 658.5" fill="none" stroke="#fff" stroke-width="0.9"/>
<path d="M446.0 585.8 L453.5 585.1 L461.0 587.6 L468.5 592.0 L476.0 595.8 L483.5 597.0" fill="none" stroke="#fff" stroke-width="0.9"/>
<path d="M406.0 614.5 L407.9 617.0 L412.2 618.9" fill="none" stroke="#fff" stroke-width="0.9"/>
<path d="M398.5 608.5 L403.5 609.5" fill="none" stroke="#fff" stroke-width="0.9"/>
<path d="M481.2 627.5 L489.4 631.9" fill="none" stroke="#fff" stroke-width="0.9"/>
<path d="M494.4 631.2 L496.9 635.0" fill="none" stroke="#fff" stroke-width="0.9"/>
<path d="M132.5 556.2 L133.0 575.0 L132.5 595.0" fill="none" stroke="#fff" stroke-width="0.9"/>
<path d="M132.5 600.0 L134.6 608.1 L139.0 614.4 L142.1 620.0" fill="none" stroke="#fff" stroke-width="0.9"/>
<clipPath id="lis"><path d="M582.2 256.1 L586.0 252.4 L592.2 249.9 L598.5 248.0 L604.8 248.6 L611.0 248.0 L617.2 247.4 L623.5 246.1 L627.2 244.2 L626.6 246.1 L623.5 248.2 L617.2 250.1 L611.0 251.4 L606.0 253.6 L601.0 254.2 L596.0 253.0 L591.0 253.6 L586.0 255.5Z"/></clipPath>
<g clip-path="url(#lis)">
<path d="M581.0 243.0 L588.6 243.0 L588.6 258.0 L581.0 258.0Z" fill="#0037FF"/>
<path d="M588.5 243.0 L598.6 243.0 L598.6 258.0 L588.5 258.0Z" fill="#0065FF"/>
<path d="M598.5 243.0 L603.6 243.0 L603.6 258.0 L598.5 258.0Z" fill="#0093FF"/>
<path d="M603.5 243.0 L609.9 243.0 L609.9 258.0 L603.5 258.0Z" fill="#00C1FF"/>
<path d="M609.8 243.0 L614.9 243.0 L614.9 258.0 L609.8 258.0Z" fill="#00EEFF"/>
<path d="M614.8 243.0 L619.9 243.0 L619.9 258.0 L614.8 258.0Z" fill="#4BFFB4"/>
<path d="M619.8 243.0 L623.6 243.0 L623.6 258.0 L619.8 258.0Z" fill="#79FF86"/>
<path d="M623.5 243.0 L628.6 243.0 L628.6 258.0 L623.5 258.0Z" fill="#A7FF58"/>
</g>
<path d="M759.5 171.2 L770.0 170.5 L763.0 174.8Z" fill="#FF1600"/>
<path d="M674.0 194.5 L675.0 184.5 L676.5 185.0 L676.5 194.5Z" fill="#00C1FF"/>
<path d="M579.5 233.6 L579.8 241.8 L580.5 250.5 L581.0 256.1" fill="none" stroke="#A7FF58" stroke-width="0.8" stroke-dasharray="1.5 2"/>
<path d="M623.0 813.5 L625.5 813.5 L625.8 825.0 L630.0 830.5 L634.2 838.0 L633.0 845.5 L628.0 850.0 L622.0 849.5 L618.0 843.0 L614.5 836.0 L620.0 829.2 L623.5 825.0Z" fill="#FFFB00"/>
<path d="M624.5 825.0 L630.0 830.5 L634.2 838.0 L633.0 845.5 L628.0 850.0 L626.2 844.2 L625.0 834.2Z" fill="#D5FF2A"/>
<path d="M537.4 302.8 L541.8 305.2 L543.0 310.2 L546.8 310.9 L545.5 313.4 L541.8 314.0 L541.1 320.2 L541.8 325.2 L543.9 327.1 L541.8 329.2 L538.0 328.4 L536.1 325.9 L534.0 324.0 L534.9 320.9 L536.8 319.0 L536.1 314.0 L535.5 307.8 L536.1 304.0Z" fill="#79FF86"/>
<path d="M531.1 292.8 L533.6 291.5 L536.1 296.5 L537.6 302.8 L535.8 303.0 L533.6 297.8Z" fill="#A7FF58"/>
<path d="M532.0 286.2 L537.4 281.5 L541.1 279.6 L541.5 281.2 L538.0 283.4 L534.0 287.8Z" fill="#D5FF2A"/>
<path d="M516.8 299.6 L523.0 301.5 L530.5 306.5 L536.1 309.2" fill="none" stroke="#fff" stroke-width="1"/>
<path d="M524.9 309.6 L530.5 313.4 L536.1 317.1" fill="none" stroke="#fff" stroke-width="1"/>
<path d="M525.5 317.8 L530.5 320.2 L534.9 323.0" fill="none" stroke="#fff" stroke-width="1"/>
<path d="M516.8 296.8 L518.6 300.2" fill="none" stroke="#fff" stroke-width="1"/>
<path d="M531.8 360.2 L538.0 358.0 L545.5 358.4 L541.8 362.8 L535.5 365.0 L532.0 363.4Z" fill="#A7FF58"/>
<path d="M535.5 352.1 L539.9 351.5 L540.8 355.9 L537.4 357.1Z" fill="#FFFB00"/>
<path d="M543.0 334.0 L545.2 339.6 L549.5 348.0 L551.2 351.8 L550.5 356.8 L548.0 360.5 L541.8 363.8 L535.5 366.8 L531.1 370.9" fill="none" stroke="#fff" stroke-width="0.8"/>
<path d="M442.2 511.2 L447.2 509.4 L452.2 510.0 L457.2 512.5 L462.2 515.0 L464.8 521.2 L464.1 530.0 L462.2 535.0 L457.2 536.2 L451.0 535.0 L446.0 535.6 L441.0 535.0 L436.0 532.5 L433.5 527.5 L432.9 520.0 L436.0 518.1 L441.0 517.5Z" fill="#8B0000"/>
<path d="M447.2 536.5 L451.0 534.8 L457.9 536.2 L457.0 542.5 L454.8 546.9 L451.0 545.6 L448.2 541.5Z" fill="#FF4400"/>
<path d="M441.0 536.2 L447.9 536.9 L448.8 541.9 L451.0 545.6 L447.9 547.5 L445.4 543.1Z" fill="#FFCD00"/>
<path d="M252.6 455.8 L255.8 455.8 L262.6 462.5 L261.0 464.1 L254.5 459.8Z" fill="#FF4400"/>
<path d="M254.5 461.0 L262.0 464.1 L273.2 461.2 L273.9 465.4 L268.2 468.5 L258.9 468.2Z" fill="#FF9F00"/>
<path d="M232.0 459.1 L237.6 459.8 L238.9 464.1 L234.5 466.0 L232.0 466.0Z" fill="#FF9F00"/>
<path d="M263.2 452.2 L273.2 451.4 L273.9 456.2 L265.8 457.2Z" fill="#FFFB00"/>
<path d="M273.2 459.4 L285.1 459.8 L286.0 465.4 L275.1 466.2Z" fill="#FFFB00"/>
<path d="M257.0 467.5 L267.0 467.9 L267.6 472.5 L258.9 472.9Z" fill="#FFFB00"/>
<path d="M272.0 453.5 L275.8 451.6 L282.0 453.5 L283.5 456.2 L275.8 457.5Z" fill="#A7FF58"/>
<path d="M253 456h1.0v1.0h-1.0zM192 467h1.0v1.0h-1.0zM251 460h1.0v1.0h-1.0zM131 531h1.0v1.0h-1.0zM185 463h1.0v1.0h-1.0zM241 450h1.0v1.0h-1.0zM244 463h1.0v2.0h-1.0zM231 463h1.0v1.0h-1.0zM131 548h2.0v1.0h-2.0zM146 499h2.0v2.0h-2.0zM197 466h1.0v1.0h-1.0zM187 461h1.0v1.0h-1.0zM228 454h1.0v1.0h-1.0zM135 511h1.0v1.0h-1.0zM139 540h1.0v1.0h-1.0zM173 477h1.0v1.0h-1.0zM236 457h1.0v2.0h-1.0zM166 483h1.0v2.0h-1.0zM139 541h2.0v1.0h-2.0zM153 483h2.0v1.0h-2.0zM247 457h1.0v1.0h-1.0zM141 538h1.0v1.0h-1.0zM133 518h2.0v1.0h-2.0zM218 456h1.0v2.0h-1.0zM165 477h1.0v1.0h-1.0zM250 459h1.0v1.0h-1.0zM135 522h2.0v1.0h-2.0zM138 531h1.0v2.0h-1.0zM171 478h1.0v1.0h-1.0zM141 496h1.0v1.0h-1.0zM185 464h1.0v2.0h-1.0zM255 455h2.0v1.0h-2.0zM135 549h1.0v1.0h-1.0zM248 460h1.0v1.0h-1.0zM193 463h1.0v1.0h-1.0zM134 511h2.0v1.0h-2.0zM138 508h1.0v2.0h-1.0zM245 461h1.0v1.0h-1.0zM147 497h1.0v1.0h-1.0zM234 461h2.0v1.0h-2.0zM139 513h1.0v1.0h-1.0zM241 446h2.0v2.0h-2.0zM245 464h1.0v1.0h-1.0zM245 459h1.0v1.0h-1.0zM135 534h1.0v2.0h-1.0zM135 524h1.0v1.0h-1.0zM142 493h1.0v1.0h-1.0zM233 462h1.0v1.0h-1.0zM203 461h2.0v1.0h-2.0zM176 476h2.0v1.0h-2.0zM173 478h2.0v1.0h-2.0z" fill="#8B0000"/>
<path d="M251 452h1.0v2.0h-1.0zM248 460h1.0v1.0h-1.0zM150 489h1.0v1.0h-1.0zM232 459h1.0v1.0h-1.0zM138 542h1.0v1.0h-1.0zM139 542h2.0v2.0h-2.0zM221 452h2.0v1.0h-2.0zM244 449h1.0v1.0h-1.0z" fill="#B90000"/>
<path d="M165 485h1.0v2.0h-1.0zM136 538h1.0v1.0h-1.0zM231 453h1.0v1.0h-1.0zM243 460h1.0v1.0h-1.0zM248 455h1.0v1.0h-1.0zM179 475h1.0v1.0h-1.0zM250 458h1.0v2.0h-1.0zM136 514h2.0v1.0h-2.0zM214 457h1.0v1.0h-1.0zM145 497h1.0v2.0h-1.0zM150 487h1.0v1.0h-1.0zM144 500h2.0v2.0h-2.0zM134 544h1.0v1.0h-1.0z" fill="#FF9F00"/>
<path d="M136 507h1.0v1.0h-1.0zM194 463h1.0v1.0h-1.0zM249 455h1.0v1.0h-1.0zM245 453h2.0v1.0h-2.0zM235 456h1.0v2.0h-1.0zM225 461h1.0v1.0h-1.0z" fill="#FF4400"/>
<path d="M165 480h1.0v2.0h-1.0zM161 486h1.0v1.0h-1.0zM173 479h1.0v1.0h-1.0zM166 483h1.0v1.0h-1.0zM177 473h1.0v1.0h-1.0zM138 542h2.0v2.0h-2.0zM144 536h1.0v1.0h-1.0zM139 543h1.0v1.0h-1.0zM229 465h1.0v1.0h-1.0zM162 486h1.0v1.0h-1.0zM136 522h1.0v1.0h-1.0zM140 518h2.0v1.0h-2.0zM142 502h1.0v1.0h-1.0zM144 533h2.0v1.0h-2.0zM164 484h2.0v1.0h-2.0zM163 483h1.0v1.0h-1.0zM221 461h1.0v2.0h-1.0zM178 477h1.0v1.0h-1.0zM192 466h2.0v2.0h-2.0zM168 480h1.0v2.0h-1.0zM227 463h2.0v1.0h-2.0zM179 473h1.0v2.0h-1.0zM137 516h2.0v1.0h-2.0zM187 471h1.0v1.0h-1.0zM222 463h1.0v1.0h-1.0zM232 461h1.0v2.0h-1.0zM230 464h1.0v1.0h-1.0zM207 463h2.0v1.0h-2.0zM213 461h1.0v1.0h-1.0zM159 486h1.0v1.0h-1.0zM185 472h1.0v2.0h-1.0zM152 494h1.0v1.0h-1.0zM161 480h1.0v1.0h-1.0zM163 483h1.0v1.0h-1.0zM220 458h1.0v2.0h-1.0zM190 466h1.0v2.0h-1.0zM224 459h1.0v2.0h-1.0zM135 511h1.0v2.0h-1.0zM183 471h1.0v1.0h-1.0zM134 545h1.0v2.0h-1.0zM167 481h1.0v1.0h-1.0zM209 460h1.0v1.0h-1.0zM203 461h1.0v1.0h-1.0zM141 530h2.0v2.0h-2.0zM139 518h1.0v1.0h-1.0zM197 465h1.0v1.0h-1.0zM140 525h1.0v1.0h-1.0zM181 472h1.0v1.0h-1.0zM152 493h2.0v2.0h-2.0zM213 463h1.0v1.0h-1.0zM221 460h1.0v1.0h-1.0zM141 526h1.0v1.0h-1.0zM204 462h1.0v1.0h-1.0zM190 468h1.0v1.0h-1.0zM140 532h2.0v2.0h-2.0zM167 481h2.0v1.0h-2.0zM187 467h1.0v1.0h-1.0zM137 549h1.0v1.0h-1.0zM141 537h2.0v1.0h-2.0zM143 504h1.0v1.0h-1.0zM150 489h1.0v1.0h-1.0zM196 462h1.0v1.0h-1.0zM185 473h1.0v1.0h-1.0zM161 482h1.0v1.0h-1.0zM189 467h1.0v2.0h-1.0zM197 462h1.0v1.0h-1.0zM141 536h1.0v1.0h-1.0zM146 495h1.0v1.0h-1.0zM139 519h1.0v2.0h-1.0zM137 526h1.0v1.0h-1.0zM161 482h2.0v1.0h-2.0zM141 502h1.0v1.0h-1.0zM141 511h1.0v1.0h-1.0zM152 489h2.0v1.0h-2.0zM139 525h1.0v1.0h-1.0zM146 494h1.0v1.0h-1.0zM161 486h2.0v2.0h-2.0z" fill="#8B0000"/>
<path d="M194 467h1.0v1.0h-1.0zM156 486h1.0v1.0h-1.0zM136 514h2.0v1.0h-2.0zM154 489h2.0v1.0h-2.0zM195 461h1.0v1.0h-1.0zM188 468h1.0v1.0h-1.0zM167 478h1.0v2.0h-1.0zM137 516h2.0v2.0h-2.0zM166 479h1.0v2.0h-1.0zM219 462h1.0v2.0h-1.0zM161 481h1.0v2.0h-1.0z" fill="#FF4400"/>
<path d="M177 477h1.0v1.0h-1.0zM186 469h1.0v2.0h-1.0zM155 486h1.0v1.0h-1.0zM188 468h2.0v1.0h-2.0zM159 489h2.0v1.0h-2.0zM163 483h1.0v1.0h-1.0zM186 466h1.0v1.0h-1.0z" fill="#FF9F00"/>
<path d="M137 527h1.0v1.0h-1.0zM133 525h1.0v1.0h-1.0zM132 522h1.0v1.0h-1.0zM134 520h1.0v2.0h-1.0zM136 524h1.0v1.0h-1.0zM143 534h1.0v1.0h-1.0zM143 541h2.0v2.0h-2.0zM136 512h1.0v1.0h-1.0zM138 536h1.0v2.0h-1.0zM141 540h1.0v1.0h-1.0zM134 527h1.0v2.0h-1.0zM135 536h2.0v1.0h-2.0zM131 536h1.0v2.0h-1.0zM131 543h1.0v1.0h-1.0zM141 545h1.0v1.0h-1.0zM132 547h1.0v1.0h-1.0zM138 513h1.0v1.0h-1.0zM134 540h1.0v2.0h-1.0zM139 542h1.0v2.0h-1.0zM135 545h1.0v1.0h-1.0zM142 541h2.0v1.0h-2.0zM135 531h2.0v1.0h-2.0zM135 538h1.0v2.0h-1.0zM133 524h1.0v1.0h-1.0zM135 523h1.0v1.0h-1.0zM142 535h1.0v1.0h-1.0zM138 536h1.0v1.0h-1.0zM135 546h2.0v1.0h-2.0zM137 512h1.0v2.0h-1.0zM134 521h2.0v1.0h-2.0zM139 543h2.0v1.0h-2.0zM133 539h1.0v1.0h-1.0zM135 526h1.0v1.0h-1.0zM142 531h1.0v2.0h-1.0zM132 524h2.0v1.0h-2.0zM131 533h1.0v1.0h-1.0zM138 522h1.0v1.0h-1.0zM141 530h2.0v1.0h-2.0zM142 536h1.0v1.0h-1.0zM140 534h1.0v1.0h-1.0zM139 531h2.0v1.0h-2.0zM135 533h1.0v1.0h-1.0zM131 543h1.0v1.0h-1.0zM141 528h2.0v1.0h-2.0zM139 513h1.0v1.0h-1.0z" fill="#8B0000"/>
<path d="M234 462h1.0v1.0h-1.0zM230 466h2.0v1.0h-2.0zM242 465h1.0v1.0h-1.0zM239 464h1.0v1.0h-1.0zM231 462h1.0v1.0h-1.0zM215 462h1.0v1.0h-1.0zM221 461h1.0v1.0h-1.0zM250 465h1.0v1.0h-1.0zM243 464h1.0v2.0h-1.0zM221 465h1.0v1.0h-1.0zM225 461h1.0v1.0h-1.0z" fill="#FF9F00"/>
<path d="M228 462h2.0v1.0h-2.0zM240 464h1.0v1.0h-1.0zM211 462h1.0v1.0h-1.0zM243 467h1.0v1.0h-1.0zM247 463h2.0v1.0h-2.0zM230 463h2.0v1.0h-2.0zM212 462h1.0v2.0h-1.0zM238 463h1.0v1.0h-1.0zM247 464h2.0v1.0h-2.0zM242 466h1.0v1.0h-1.0zM228 465h1.0v2.0h-1.0zM252 465h1.0v1.0h-1.0zM223 464h1.0v1.0h-1.0zM250 463h1.0v1.0h-1.0zM244 462h1.0v1.0h-1.0zM242 464h1.0v1.0h-1.0zM224 465h2.0v1.0h-2.0zM222 462h1.0v2.0h-1.0zM235 464h1.0v1.0h-1.0zM235 464h1.0v1.0h-1.0zM239 463h1.0v1.0h-1.0zM205 460h1.0v1.0h-1.0zM203 463h1.0v1.0h-1.0zM214 463h1.0v1.0h-1.0z" fill="#FFFB00"/>
<path d="M206 460h1.0v1.0h-1.0zM230 464h1.0v1.0h-1.0zM230 461h1.0v1.0h-1.0zM229 467h2.0v1.0h-2.0zM207 461h1.0v1.0h-1.0zM252 466h1.0v2.0h-1.0zM215 459h1.0v2.0h-1.0zM212 461h2.0v1.0h-2.0zM202 460h2.0v1.0h-2.0zM227 462h1.0v1.0h-1.0z" fill="#D5FF2A"/>
<path d="M253 466h1.0v2.0h-1.0zM248 465h1.0v1.0h-1.0zM202 461h1.0v1.0h-1.0zM250 463h1.0v1.0h-1.0zM231 464h1.0v1.0h-1.0zM212 461h1.0v1.0h-1.0zM208 463h1.0v1.0h-1.0zM221 464h1.0v1.0h-1.0z" fill="#fff"/>
<path d="M205 463h1.0v2.0h-1.0zM247 464h1.0v1.0h-1.0zM222 461h1.0v2.0h-1.0zM207 460h1.0v2.0h-1.0zM219 462h2.0v1.0h-2.0zM235 466h1.0v1.0h-1.0zM205 461h1.0v1.0h-1.0zM240 464h1.0v2.0h-1.0zM204 461h1.0v1.0h-1.0zM208 464h1.0v2.0h-1.0zM237 465h1.0v1.0h-1.0zM239 464h2.0v1.0h-2.0zM221 460h2.0v1.0h-2.0zM249 462h2.0v1.0h-2.0zM208 463h1.0v1.0h-1.0zM217 461h2.0v1.0h-2.0zM207 461h1.0v1.0h-1.0z" fill="#FFCD00"/>
<path d="M214 462h1.0v1.0h-1.0zM162 487h2.0v1.0h-2.0zM166 485h1.0v1.0h-1.0zM229 465h1.0v1.0h-1.0zM193 468h1.0v1.0h-1.0zM189 470h2.0v1.0h-2.0zM187 472h1.0v1.0h-1.0zM161 486h1.0v1.0h-1.0zM184 474h2.0v2.0h-2.0zM151 495h2.0v1.0h-2.0zM188 471h1.0v1.0h-1.0zM196 465h1.0v2.0h-1.0zM227 463h1.0v1.0h-1.0zM215 462h1.0v1.0h-1.0zM200 465h1.0v1.0h-1.0zM216 463h1.0v1.0h-1.0zM228 463h2.0v2.0h-2.0zM157 489h1.0v2.0h-1.0zM150 496h2.0v1.0h-2.0zM144 504h1.0v1.0h-1.0zM172 482h2.0v2.0h-2.0zM220 462h1.0v1.0h-1.0zM143 526h1.0v2.0h-1.0zM173 480h2.0v2.0h-2.0zM188 471h2.0v1.0h-2.0zM179 477h1.0v1.0h-1.0zM210 462h1.0v1.0h-1.0zM186 473h1.0v1.0h-1.0zM177 477h1.0v1.0h-1.0z" fill="#fff"/>
<path d="M187 472h2.0v1.0h-2.0zM141 516h1.0v1.0h-1.0zM180 475h1.0v1.0h-1.0zM171 480h1.0v1.0h-1.0zM178 478h1.0v2.0h-1.0zM177 479h1.0v1.0h-1.0zM176 480h2.0v1.0h-2.0zM189 471h2.0v1.0h-2.0zM230 464h1.0v2.0h-1.0zM177 478h1.0v1.0h-1.0zM146 500h1.0v1.0h-1.0zM164 485h1.0v2.0h-1.0zM145 501h1.0v1.0h-1.0zM155 490h1.0v1.0h-1.0zM218 463h1.0v1.0h-1.0zM142 521h1.0v1.0h-1.0zM194 466h1.0v1.0h-1.0zM141 517h1.0v1.0h-1.0zM223 463h1.0v1.0h-1.0zM198 466h1.0v1.0h-1.0zM142 521h2.0v1.0h-2.0z" fill="#A7FF58"/>
<path d="M254 446h1.0v1.0h-1.0zM249 457h1.0v1.0h-1.0zM242 452h2.0v1.0h-2.0zM243 451h1.0v1.0h-1.0zM252 444h1.0v1.0h-1.0zM256 452h2.0v1.0h-2.0zM248 458h1.0v1.0h-1.0zM253 451h1.0v1.0h-1.0zM259 452h1.0v1.0h-1.0zM251 451h1.0v2.0h-1.0zM243 448h2.0v1.0h-2.0zM253 442h1.0v1.0h-1.0zM246 446h1.0v1.0h-1.0zM240 452h1.0v1.0h-1.0zM252 444h1.0v1.0h-1.0zM251 448h1.0v1.0h-1.0zM245 449h1.0v1.0h-1.0zM257 444h1.0v1.0h-1.0zM256 455h1.0v1.0h-1.0zM244 452h1.0v2.0h-1.0zM246 457h1.0v2.0h-1.0zM249 456h1.0v1.0h-1.0zM246 447h1.0v1.0h-1.0zM252 453h2.0v1.0h-2.0zM244 445h2.0v1.0h-2.0zM249 449h1.0v1.0h-1.0zM252 455h1.0v2.0h-1.0zM251 457h1.0v1.0h-1.0zM258 449h1.0v1.0h-1.0zM251 449h1.0v1.0h-1.0zM244 455h1.0v1.0h-1.0zM248 448h1.0v1.0h-1.0zM249 443h2.0v2.0h-2.0zM255 456h1.0v1.0h-1.0zM244 446h2.0v1.0h-2.0zM255 452h1.0v1.0h-1.0zM254 449h1.0v2.0h-1.0zM247 456h1.0v1.0h-1.0zM250 456h1.0v2.0h-1.0zM254 444h1.0v1.0h-1.0zM254 448h1.0v2.0h-1.0zM249 447h2.0v1.0h-2.0zM245 455h1.0v1.0h-1.0zM254 448h1.0v2.0h-1.0zM260 455h1.0v1.0h-1.0zM243 449h1.0v1.0h-1.0zM242 447h1.0v2.0h-1.0zM257 443h2.0v1.0h-2.0zM245 445h1.0v1.0h-1.0zM256 451h2.0v2.0h-2.0zM242 452h1.0v2.0h-1.0zM252 452h1.0v1.0h-1.0zM247 451h1.0v2.0h-1.0zM252 454h1.0v1.0h-1.0zM255 450h1.0v1.0h-1.0zM249 448h1.0v1.0h-1.0zM257 449h1.0v1.0h-1.0zM247 443h1.0v1.0h-1.0zM244 442h1.0v1.0h-1.0zM246 455h1.0v1.0h-1.0zM253 445h1.0v1.0h-1.0zM251 457h1.0v2.0h-1.0zM240 451h1.0v1.0h-1.0zM260 457h1.0v1.0h-1.0zM247 446h1.0v2.0h-1.0zM246 457h1.0v1.0h-1.0zM253 447h1.0v1.0h-1.0zM252 454h1.0v1.0h-1.0zM253 448h1.0v1.0h-1.0zM253 450h2.0v1.0h-2.0zM255 449h1.0v1.0h-1.0zM257 447h1.0v1.0h-1.0zM247 453h1.0v1.0h-1.0zM246 445h1.0v1.0h-1.0zM253 450h2.0v1.0h-2.0zM258 446h1.0v1.0h-1.0zM252 454h1.0v1.0h-1.0zM244 448h1.0v2.0h-1.0zM246 447h1.0v2.0h-1.0zM244 445h2.0v1.0h-2.0zM254 443h1.0v1.0h-1.0zM249 448h1.0v1.0h-1.0zM242 452h2.0v1.0h-2.0zM254 455h1.0v1.0h-1.0zM242 447h1.0v1.0h-1.0zM241 454h1.0v1.0h-1.0zM247 446h1.0v1.0h-1.0zM257 445h1.0v1.0h-1.0zM245 454h1.0v1.0h-1.0zM257 457h1.0v1.0h-1.0zM246 455h2.0v1.0h-2.0zM247 455h1.0v1.0h-1.0zM257 455h1.0v1.0h-1.0zM249 447h1.0v2.0h-1.0zM250 452h1.0v1.0h-1.0zM248 457h1.0v1.0h-1.0zM249 452h1.0v1.0h-1.0zM251 457h2.0v1.0h-2.0zM255 454h1.0v1.0h-1.0zM251 445h1.0v1.0h-1.0zM257 449h1.0v2.0h-1.0zM256 448h1.0v1.0h-1.0zM247 455h1.0v1.0h-1.0zM242 446h2.0v1.0h-2.0zM253 456h1.0v1.0h-1.0zM249 458h1.0v1.0h-1.0zM247 448h1.0v1.0h-1.0zM243 444h2.0v1.0h-2.0zM257 457h1.0v1.0h-1.0zM251 450h2.0v1.0h-2.0zM254 447h1.0v1.0h-1.0zM245 454h2.0v1.0h-2.0zM253 445h1.0v1.0h-1.0zM254 451h1.0v2.0h-1.0zM253 449h2.0v1.0h-2.0zM248 452h1.0v1.0h-1.0zM244 444h1.0v1.0h-1.0zM258 453h1.0v1.0h-1.0zM253 448h1.0v1.0h-1.0zM250 444h1.0v1.0h-1.0zM245 445h1.0v1.0h-1.0zM241 444h2.0v1.0h-2.0zM249 447h2.0v2.0h-2.0zM256 457h1.0v1.0h-1.0zM248 446h2.0v1.0h-2.0zM253 446h1.0v1.0h-1.0zM242 450h1.0v1.0h-1.0zM257 450h2.0v2.0h-2.0zM245 457h1.0v1.0h-1.0zM250 455h1.0v1.0h-1.0zM251 452h1.0v1.0h-1.0zM257 454h1.0v1.0h-1.0zM258 457h1.0v1.0h-1.0zM254 450h1.0v2.0h-1.0zM258 447h1.0v1.0h-1.0zM254 456h1.0v1.0h-1.0zM254 456h1.0v1.0h-1.0zM251 454h1.0v2.0h-1.0zM241 448h1.0v1.0h-1.0zM256 444h2.0v1.0h-2.0zM247 450h1.0v2.0h-1.0zM257 444h1.0v2.0h-1.0zM257 453h1.0v1.0h-1.0zM242 448h1.0v1.0h-1.0zM242 443h1.0v1.0h-1.0zM246 448h1.0v1.0h-1.0zM242 448h1.0v1.0h-1.0zM252 452h1.0v1.0h-1.0zM252 447h1.0v1.0h-1.0zM245 444h1.0v1.0h-1.0z" fill="#8B0000"/>
<path d="M238 459h1.0v1.0h-1.0zM239 453h1.0v2.0h-1.0zM241 455h2.0v2.0h-2.0zM234 459h1.0v2.0h-1.0zM240 453h2.0v1.0h-2.0z" fill="#8B0000"/>
<path d="M239 455h1.0v1.0h-1.0z" fill="#FF4400"/>
<path d="M240 457h1.0v2.0h-1.0z" fill="#FF9F00"/>
<path d="M265 454h2.0v1.0h-2.0zM267 449h1.0v1.0h-1.0zM262 457h1.0v2.0h-1.0zM266 449h2.0v2.0h-2.0z" fill="#8B0000"/>
<path d="M266 453h2.0v1.0h-2.0zM261 450h1.0v1.0h-1.0z" fill="#FF9F00"/>
<path d="M270 453h2.0v1.0h-2.0z" fill="#B90000"/>
<path d="M301 446h1.0v2.0h-1.0zM297 448h1.0v1.0h-1.0zM303 447h1.0v1.0h-1.0zM285 452h1.0v1.0h-1.0zM296 446h1.0v1.0h-1.0z" fill="#8B0000"/>
<path d="M308 442h1.0v1.0h-1.0z" fill="#FF9F00"/>
<path d="M295 451h1.0v1.0h-1.0zM293 452h1.0v1.0h-1.0z" fill="#FF4400"/>
<path d="M336 451h2.0v2.0h-2.0z" fill="#8B0000"/>
<path d="M326 449h1.0v1.0h-1.0zM331 451h1.0v1.0h-1.0z" fill="#FF4400"/>
<path d="M336 450h1.0v1.0h-1.0z" fill="#FF9F00"/>
<path d="M274 465h2.0v2.0h-2.0zM274 466h2.0v1.0h-2.0zM262 462h1.0v1.0h-1.0zM276 463h1.0v1.0h-1.0zM259 455h1.0v1.0h-1.0zM273 472h1.0v1.0h-1.0zM273 463h1.0v2.0h-1.0zM273 458h1.0v1.0h-1.0zM266 469h1.0v1.0h-1.0zM278 473h1.0v2.0h-1.0zM279 463h1.0v1.0h-1.0zM275 462h1.0v1.0h-1.0zM274 474h1.0v1.0h-1.0z" fill="#FF9F00"/>
<path d="M273 462h1.0v1.0h-1.0zM267 455h2.0v1.0h-2.0zM268 459h1.0v1.0h-1.0zM272 462h2.0v1.0h-2.0zM259 471h1.0v1.0h-1.0zM265 462h1.0v1.0h-1.0zM257 458h1.0v1.0h-1.0zM271 464h1.0v1.0h-1.0zM292 471h1.0v1.0h-1.0zM268 466h1.0v2.0h-1.0zM291 463h1.0v1.0h-1.0zM269 465h1.0v1.0h-1.0zM281 472h1.0v1.0h-1.0zM279 461h1.0v2.0h-1.0zM264 458h1.0v1.0h-1.0zM290 466h1.0v1.0h-1.0zM283 455h1.0v1.0h-1.0zM273 471h1.0v1.0h-1.0zM256 457h1.0v1.0h-1.0zM276 468h1.0v1.0h-1.0zM267 467h2.0v1.0h-2.0zM266 470h1.0v1.0h-1.0zM276 463h1.0v1.0h-1.0zM267 465h1.0v1.0h-1.0zM270 460h1.0v1.0h-1.0zM286 465h2.0v1.0h-2.0zM269 473h1.0v2.0h-1.0zM266 457h1.0v1.0h-1.0zM279 468h1.0v1.0h-1.0zM273 469h1.0v1.0h-1.0zM277 469h1.0v2.0h-1.0zM264 467h2.0v1.0h-2.0zM276 469h2.0v1.0h-2.0zM283 456h1.0v2.0h-1.0zM259 472h1.0v1.0h-1.0zM296 473h1.0v1.0h-1.0zM277 464h1.0v1.0h-1.0zM272 462h1.0v1.0h-1.0z" fill="#FFFB00"/>
<path d="M261 470h1.0v1.0h-1.0zM280 455h1.0v1.0h-1.0zM258 469h1.0v1.0h-1.0zM282 468h1.0v1.0h-1.0zM282 463h1.0v1.0h-1.0zM274 466h1.0v2.0h-1.0zM261 461h1.0v1.0h-1.0zM289 459h1.0v1.0h-1.0zM282 454h1.0v1.0h-1.0zM290 467h1.0v1.0h-1.0zM283 471h1.0v1.0h-1.0zM287 464h1.0v1.0h-1.0zM264 467h1.0v1.0h-1.0zM287 466h1.0v1.0h-1.0zM285 462h1.0v1.0h-1.0zM263 469h1.0v1.0h-1.0zM264 456h1.0v1.0h-1.0zM268 465h1.0v1.0h-1.0zM270 461h1.0v1.0h-1.0zM272 470h1.0v1.0h-1.0zM283 458h1.0v2.0h-1.0zM261 459h1.0v1.0h-1.0z" fill="#FFCD00"/>
<path d="M266 473h1.0v2.0h-1.0zM259 457h1.0v2.0h-1.0zM287 459h2.0v1.0h-2.0zM261 466h1.0v1.0h-1.0zM259 458h1.0v1.0h-1.0zM263 458h1.0v1.0h-1.0zM263 468h1.0v1.0h-1.0zM270 472h1.0v1.0h-1.0zM264 469h2.0v1.0h-2.0zM283 466h1.0v2.0h-1.0zM273 467h1.0v2.0h-1.0zM261 473h1.0v1.0h-1.0zM272 467h1.0v1.0h-1.0zM291 462h1.0v1.0h-1.0zM282 472h1.0v1.0h-1.0zM277 459h2.0v1.0h-2.0zM291 461h2.0v1.0h-2.0z" fill="#A7FF58"/>
<path d="M269 454h1.0v1.0h-1.0zM290 474h1.0v2.0h-1.0zM289 462h1.0v1.0h-1.0zM261 466h2.0v1.0h-2.0zM286 464h1.0v2.0h-1.0zM274 454h1.0v2.0h-1.0zM257 473h1.0v2.0h-1.0zM263 471h2.0v1.0h-2.0zM284 460h1.0v1.0h-1.0zM291 473h1.0v1.0h-1.0zM272 456h1.0v1.0h-1.0zM281 460h1.0v1.0h-1.0zM290 470h1.0v1.0h-1.0zM272 463h1.0v1.0h-1.0zM266 462h2.0v1.0h-2.0zM275 468h1.0v1.0h-1.0zM259 466h1.0v1.0h-1.0zM276 462h1.0v1.0h-1.0zM262 463h1.0v1.0h-1.0zM271 458h1.0v2.0h-1.0z" fill="#fff"/>
<path d="M379 461h1.0v1.0h-1.0zM370 456h1.0v1.0h-1.0zM363 456h1.0v1.0h-1.0zM380 454h2.0v2.0h-2.0z" fill="#8B0000"/>
<path d="M365 460h1.0v1.0h-1.0z" fill="#FF9F00"/>
<path d="M377 456h1.0v1.0h-1.0zM360 452h1.0v1.0h-1.0z" fill="#FFFB00"/>
<path d="M361 452h1.0v1.0h-1.0zM382 459h1.0v1.0h-1.0z" fill="#FFCD00"/>
<path d="M386 451h1.0v1.0h-1.0zM386 453h1.0v1.0h-1.0zM388 452h1.0v2.0h-1.0zM408 467h1.0v1.0h-1.0z" fill="#B90000"/>
<path d="M387 452h2.0v1.0h-2.0zM401 457h2.0v1.0h-2.0zM402 463h1.0v1.0h-1.0zM400 459h1.0v1.0h-1.0zM409 469h1.0v1.0h-1.0zM388 456h1.0v1.0h-1.0zM376 454h2.0v2.0h-2.0zM390 453h2.0v1.0h-2.0zM416 480h1.0v1.0h-1.0zM383 451h1.0v1.0h-1.0zM383 457h2.0v1.0h-2.0zM394 456h1.0v1.0h-1.0zM398 461h1.0v1.0h-1.0zM397 459h1.0v1.0h-1.0zM399 459h1.0v1.0h-1.0zM381 458h1.0v1.0h-1.0zM390 453h1.0v1.0h-1.0zM383 458h2.0v1.0h-2.0zM393 452h1.0v1.0h-1.0zM389 456h2.0v1.0h-2.0zM378 456h1.0v1.0h-1.0zM406 464h1.0v1.0h-1.0zM405 469h1.0v1.0h-1.0zM394 457h1.0v1.0h-1.0zM376 454h2.0v1.0h-2.0zM398 460h2.0v1.0h-2.0z" fill="#8B0000"/>
<path d="M389 453h1.0v1.0h-1.0zM406 466h1.0v1.0h-1.0zM415 477h1.0v1.0h-1.0zM401 461h1.0v1.0h-1.0zM380 458h2.0v1.0h-2.0z" fill="#FF9F00"/>
<path d="M386 451h1.0v2.0h-1.0zM378 455h1.0v1.0h-1.0zM409 471h1.0v2.0h-1.0zM392 455h1.0v1.0h-1.0zM387 451h1.0v2.0h-1.0z" fill="#FF4400"/>
<path d="M411 471h1.0v1.0h-1.0zM407 464h1.0v1.0h-1.0zM406 464h2.0v1.0h-2.0zM417 478h1.0v2.0h-1.0zM403 461h1.0v2.0h-1.0zM410 469h1.0v1.0h-1.0zM407 465h1.0v1.0h-1.0zM417 477h1.0v1.0h-1.0zM415 474h1.0v2.0h-1.0zM413 470h1.0v1.0h-1.0zM408 464h1.0v1.0h-1.0zM412 468h1.0v1.0h-1.0zM409 465h1.0v1.0h-1.0zM408 465h1.0v1.0h-1.0zM413 470h1.0v1.0h-1.0zM405 463h1.0v1.0h-1.0zM411 471h1.0v1.0h-1.0zM408 469h1.0v2.0h-1.0zM411 469h1.0v1.0h-1.0zM409 470h1.0v1.0h-1.0zM406 464h1.0v1.0h-1.0zM407 470h1.0v1.0h-1.0zM411 470h1.0v1.0h-1.0zM406 467h2.0v1.0h-2.0zM409 467h1.0v1.0h-1.0zM410 474h1.0v2.0h-1.0zM415 479h1.0v2.0h-1.0zM405 466h1.0v1.0h-1.0zM417 478h1.0v1.0h-1.0zM406 467h1.0v1.0h-1.0zM415 479h1.0v1.0h-1.0zM407 466h2.0v1.0h-2.0zM414 471h1.0v1.0h-1.0zM411 476h2.0v1.0h-2.0zM411 474h2.0v2.0h-2.0zM411 476h1.0v1.0h-1.0zM406 464h1.0v1.0h-1.0zM412 473h1.0v1.0h-1.0zM405 466h1.0v1.0h-1.0zM414 471h1.0v1.0h-1.0zM415 473h1.0v2.0h-1.0zM412 474h1.0v1.0h-1.0zM407 466h1.0v1.0h-1.0zM405 463h1.0v1.0h-1.0zM416 474h1.0v2.0h-1.0zM410 472h1.0v1.0h-1.0zM418 480h1.0v2.0h-1.0zM407 470h2.0v1.0h-2.0zM408 465h2.0v1.0h-2.0zM407 463h1.0v1.0h-1.0zM409 467h1.0v1.0h-1.0zM406 463h1.0v1.0h-1.0zM411 467h1.0v1.0h-1.0zM418 477h1.0v1.0h-1.0zM418 476h1.0v1.0h-1.0z" fill="#8B0000"/>
<path d="M424 507h1.0v2.0h-1.0zM421 501h1.0v1.0h-1.0zM418 505h1.0v1.0h-1.0zM424 497h1.0v1.0h-1.0zM431 516h1.0v1.0h-1.0zM422 509h1.0v1.0h-1.0zM424 498h1.0v2.0h-1.0zM419 503h1.0v1.0h-1.0zM425 498h1.0v1.0h-1.0zM423 505h1.0v1.0h-1.0zM425 510h1.0v1.0h-1.0zM423 498h1.0v1.0h-1.0zM420 505h2.0v1.0h-2.0zM423 494h1.0v2.0h-1.0zM427 502h1.0v1.0h-1.0zM422 495h1.0v1.0h-1.0zM425 515h1.0v1.0h-1.0zM421 503h1.0v1.0h-1.0zM417 497h2.0v1.0h-2.0zM419 508h1.0v1.0h-1.0zM423 511h1.0v2.0h-1.0zM420 507h1.0v1.0h-1.0z" fill="#8B0000"/>
<path d="M417 498h2.0v1.0h-2.0zM427 510h1.0v2.0h-1.0zM428 511h1.0v2.0h-1.0zM424 509h1.0v1.0h-1.0zM418 499h1.0v1.0h-1.0zM426 507h1.0v2.0h-1.0zM424 508h1.0v1.0h-1.0z" fill="#FF4400"/>
<path d="M426 517h1.0v2.0h-1.0zM430 512h2.0v1.0h-2.0zM426 518h1.0v1.0h-1.0zM421 499h1.0v1.0h-1.0z" fill="#FF9F00"/>
<path d="M420 501h2.0v1.0h-2.0zM420 509h2.0v1.0h-2.0zM425 508h1.0v1.0h-1.0z" fill="#B90000"/>
<path d="M438 475h2.0v1.0h-2.0zM433 447h1.0v1.0h-1.0zM437 457h1.0v1.0h-1.0zM434 444h1.0v1.0h-1.0zM439 474h1.0v1.0h-1.0zM436 444h1.0v1.0h-1.0zM444 467h1.0v2.0h-1.0zM439 458h1.0v1.0h-1.0zM437 444h1.0v1.0h-1.0zM442 464h1.0v2.0h-1.0zM438 457h1.0v1.0h-1.0zM439 459h1.0v1.0h-1.0z" fill="#8B0000"/>
<path d="M437 453h1.0v1.0h-1.0zM433 461h2.0v2.0h-2.0zM435 457h1.0v2.0h-1.0z" fill="#FFCD00"/>
<path d="M434 460h2.0v1.0h-2.0zM440 449h1.0v2.0h-1.0zM435 446h1.0v1.0h-1.0zM439 459h1.0v2.0h-1.0zM435 450h1.0v1.0h-1.0z" fill="#FF4400"/>
<path d="M435 441h1.0v1.0h-1.0zM436 452h2.0v2.0h-2.0zM431 442h2.0v1.0h-2.0z" fill="#FF9F00"/>
<path d="M433 458h1.0v2.0h-1.0z" fill="#FFFB00"/>
<path d="M456 497h2.0v1.0h-2.0zM455 505h1.0v1.0h-1.0zM456 512h2.0v1.0h-2.0zM451 487h2.0v1.0h-2.0zM455 495h1.0v1.0h-1.0zM450 481h1.0v1.0h-1.0zM453 494h1.0v1.0h-1.0zM453 487h1.0v1.0h-1.0zM459 502h1.0v1.0h-1.0zM454 490h1.0v1.0h-1.0zM452 489h2.0v1.0h-2.0zM460 510h1.0v1.0h-1.0zM456 509h1.0v1.0h-1.0zM455 498h1.0v1.0h-1.0zM451 496h1.0v1.0h-1.0zM452 492h1.0v1.0h-1.0zM458 503h1.0v1.0h-1.0zM460 510h1.0v1.0h-1.0zM451 490h1.0v1.0h-1.0zM454 494h1.0v1.0h-1.0zM453 489h1.0v1.0h-1.0zM455 499h1.0v1.0h-1.0zM456 512h2.0v1.0h-2.0zM459 512h1.0v2.0h-1.0zM453 489h2.0v1.0h-2.0zM454 502h1.0v1.0h-1.0zM454 503h1.0v2.0h-1.0zM451 485h1.0v1.0h-1.0zM451 484h1.0v2.0h-1.0zM457 499h1.0v2.0h-1.0zM452 498h1.0v2.0h-1.0zM451 487h1.0v1.0h-1.0zM451 495h1.0v1.0h-1.0zM454 490h1.0v2.0h-1.0zM457 498h1.0v1.0h-1.0zM451 486h1.0v1.0h-1.0zM461 512h1.0v1.0h-1.0zM450 489h1.0v1.0h-1.0zM454 490h1.0v1.0h-1.0zM459 503h1.0v1.0h-1.0zM457 510h1.0v1.0h-1.0zM455 496h1.0v1.0h-1.0zM450 485h1.0v1.0h-1.0zM457 509h1.0v1.0h-1.0zM460 505h1.0v1.0h-1.0zM458 508h2.0v1.0h-2.0zM457 495h2.0v2.0h-2.0zM452 496h2.0v1.0h-2.0z" fill="#8B0000"/>
<path d="M464 521h1.0v1.0h-1.0zM462 534h1.0v1.0h-1.0zM443 522h2.0v1.0h-2.0zM452 515h1.0v1.0h-1.0zM446 511h1.0v1.0h-1.0zM449 520h1.0v1.0h-1.0zM448 519h1.0v1.0h-1.0zM449 528h1.0v1.0h-1.0zM443 537h1.0v1.0h-1.0zM443 530h1.0v1.0h-1.0zM445 531h1.0v1.0h-1.0zM451 521h1.0v1.0h-1.0zM461 526h1.0v1.0h-1.0zM462 530h1.0v1.0h-1.0zM462 508h1.0v1.0h-1.0zM438 524h2.0v1.0h-2.0zM447 521h1.0v1.0h-1.0zM435 533h1.0v1.0h-1.0zM464 522h2.0v2.0h-2.0zM455 511h1.0v1.0h-1.0zM443 530h1.0v2.0h-1.0zM447 517h1.0v1.0h-1.0zM456 519h1.0v1.0h-1.0zM457 532h2.0v1.0h-2.0zM447 515h1.0v1.0h-1.0zM435 526h1.0v1.0h-1.0zM438 527h2.0v1.0h-2.0zM441 520h1.0v1.0h-1.0zM452 535h1.0v1.0h-1.0zM442 511h1.0v2.0h-1.0zM439 534h1.0v1.0h-1.0zM444 516h1.0v1.0h-1.0zM449 511h1.0v1.0h-1.0zM447 532h1.0v2.0h-1.0zM450 509h2.0v1.0h-2.0zM460 537h1.0v1.0h-1.0zM444 526h2.0v1.0h-2.0zM444 529h1.0v1.0h-1.0zM450 523h1.0v1.0h-1.0zM458 517h1.0v1.0h-1.0zM436 534h1.0v2.0h-1.0zM463 514h1.0v2.0h-1.0zM455 509h1.0v1.0h-1.0zM437 528h1.0v1.0h-1.0zM460 532h1.0v1.0h-1.0zM462 524h1.0v1.0h-1.0zM456 516h1.0v1.0h-1.0zM461 510h2.0v1.0h-2.0zM461 519h1.0v2.0h-1.0zM452 510h2.0v1.0h-2.0zM465 522h1.0v1.0h-1.0zM440 525h1.0v1.0h-1.0zM452 515h1.0v2.0h-1.0zM457 517h1.0v1.0h-1.0zM433 526h1.0v1.0h-1.0zM446 510h1.0v1.0h-1.0zM456 519h2.0v1.0h-2.0zM433 525h1.0v2.0h-1.0zM439 534h1.0v1.0h-1.0zM453 527h1.0v1.0h-1.0zM453 511h2.0v1.0h-2.0zM454 518h1.0v1.0h-1.0zM440 523h1.0v1.0h-1.0zM443 514h1.0v1.0h-1.0zM444 514h1.0v1.0h-1.0zM437 530h1.0v2.0h-1.0zM462 510h2.0v1.0h-2.0zM451 515h1.0v2.0h-1.0zM436 526h1.0v1.0h-1.0zM439 511h1.0v2.0h-1.0zM456 515h1.0v1.0h-1.0zM448 509h1.0v1.0h-1.0zM436 514h1.0v1.0h-1.0zM449 511h1.0v2.0h-1.0zM442 513h2.0v1.0h-2.0zM453 522h1.0v1.0h-1.0zM442 518h1.0v1.0h-1.0zM438 515h1.0v2.0h-1.0zM453 527h2.0v1.0h-2.0zM437 512h1.0v1.0h-1.0zM434 525h1.0v1.0h-1.0zM460 528h1.0v1.0h-1.0zM435 519h1.0v1.0h-1.0zM463 512h2.0v1.0h-2.0zM449 527h1.0v1.0h-1.0zM464 536h2.0v2.0h-2.0zM457 533h1.0v1.0h-1.0zM458 526h1.0v2.0h-1.0zM458 516h1.0v1.0h-1.0zM458 520h1.0v2.0h-1.0z" fill="#8B0000"/>
<path d="M458 526h0.9v0.9h-0.9zM451 521h0.9v0.9h-0.9zM439 519h0.9v0.9h-0.9zM438 520h0.9v0.9h-0.9zM437 524h1.8v0.9h-1.8zM455 528h0.9v0.9h-0.9zM453 527h0.9v0.9h-0.9zM463 526h1.8v0.9h-1.8zM458 534h1.8v0.9h-1.8zM460 522h1.8v0.9h-1.8zM459 519h0.9v0.9h-0.9zM447 518h0.9v1.8h-0.9zM447 528h0.9v0.9h-0.9zM439 525h1.8v0.9h-1.8zM461 518h0.9v0.9h-0.9zM450 527h0.9v0.9h-0.9zM442 524h1.8v0.9h-1.8zM448 519h0.9v1.8h-0.9z" fill="#D3D3D3"/>
<path d="M464 398h1.0v1.0h-1.0zM457 407h1.0v1.0h-1.0zM438 425h1.0v1.0h-1.0zM457 404h1.0v1.0h-1.0zM455 495h1.0v1.0h-1.0zM462 399h1.0v1.0h-1.0zM448 484h1.0v1.0h-1.0zM462 403h1.0v1.0h-1.0zM445 484h1.0v1.0h-1.0zM478 397h1.0v1.0h-1.0zM476 386h1.0v1.0h-1.0zM430 450h1.0v1.0h-1.0zM465 403h1.0v1.0h-1.0zM436 437h1.0v1.0h-1.0zM482 387h1.0v1.0h-1.0zM440 469h2.0v1.0h-2.0zM453 491h1.0v1.0h-1.0zM443 416h1.0v2.0h-1.0zM441 483h1.0v1.0h-1.0zM432 439h1.0v1.0h-1.0zM437 431h1.0v1.0h-1.0zM472 394h1.0v1.0h-1.0zM480 391h2.0v1.0h-2.0zM445 489h2.0v2.0h-2.0zM441 424h1.0v1.0h-1.0zM455 407h1.0v1.0h-1.0zM465 403h1.0v2.0h-1.0zM466 402h1.0v1.0h-1.0zM455 408h1.0v1.0h-1.0zM446 417h2.0v2.0h-2.0zM448 483h1.0v1.0h-1.0zM440 429h1.0v1.0h-1.0zM463 401h2.0v1.0h-2.0zM476 391h2.0v1.0h-2.0zM439 419h1.0v2.0h-1.0zM438 417h1.0v2.0h-1.0zM475 397h2.0v2.0h-2.0zM449 484h1.0v1.0h-1.0zM444 424h1.0v1.0h-1.0zM453 491h1.0v1.0h-1.0zM452 495h1.0v1.0h-1.0zM453 492h1.0v2.0h-1.0zM475 386h2.0v1.0h-2.0zM490 383h1.0v1.0h-1.0zM486 387h1.0v1.0h-1.0zM444 410h2.0v1.0h-2.0zM444 420h1.0v1.0h-1.0zM442 417h2.0v1.0h-2.0zM439 463h1.0v1.0h-1.0zM442 473h1.0v1.0h-1.0zM446 489h2.0v1.0h-2.0zM448 489h1.0v1.0h-1.0zM440 465h1.0v2.0h-1.0zM440 485h1.0v1.0h-1.0zM434 468h1.0v1.0h-1.0zM445 417h2.0v1.0h-2.0zM444 414h1.0v1.0h-1.0zM441 474h2.0v1.0h-2.0zM467 399h1.0v1.0h-1.0zM478 387h1.0v1.0h-1.0zM446 479h1.0v1.0h-1.0zM441 421h1.0v2.0h-1.0zM435 428h1.0v1.0h-1.0zM453 491h1.0v1.0h-1.0zM477 386h1.0v1.0h-1.0zM435 443h2.0v2.0h-2.0zM480 384h1.0v1.0h-1.0zM438 472h1.0v1.0h-1.0zM451 414h1.0v2.0h-1.0zM435 451h1.0v2.0h-1.0zM449 494h2.0v1.0h-2.0zM436 445h1.0v1.0h-1.0zM439 464h1.0v1.0h-1.0zM480 391h1.0v1.0h-1.0zM435 443h1.0v2.0h-1.0zM489 382h2.0v1.0h-2.0zM442 485h1.0v1.0h-1.0zM446 413h1.0v1.0h-1.0zM434 436h1.0v1.0h-1.0zM435 427h1.0v1.0h-1.0zM463 408h1.0v2.0h-1.0z" fill="#8B0000"/>
<path d="M458 404h1.0v1.0h-1.0zM434 468h1.0v1.0h-1.0zM434 430h1.0v1.0h-1.0zM441 470h1.0v1.0h-1.0zM477 389h1.0v1.0h-1.0zM442 490h1.0v2.0h-1.0zM491 384h1.0v1.0h-1.0zM439 429h1.0v1.0h-1.0zM443 477h2.0v1.0h-2.0zM447 497h2.0v1.0h-2.0z" fill="#B90000"/>
<path d="M431 450h1.0v1.0h-1.0zM454 493h1.0v1.0h-1.0zM478 388h1.0v1.0h-1.0zM448 414h1.0v1.0h-1.0zM441 414h1.0v1.0h-1.0zM467 403h1.0v1.0h-1.0zM434 429h2.0v1.0h-2.0zM445 489h2.0v2.0h-2.0zM439 430h1.0v1.0h-1.0zM450 412h1.0v1.0h-1.0zM490 382h1.0v1.0h-1.0zM482 384h1.0v1.0h-1.0zM449 419h2.0v1.0h-2.0z" fill="#FF4400"/>
<path d="M454 409h2.0v1.0h-2.0zM450 498h1.0v1.0h-1.0zM439 461h1.0v1.0h-1.0zM475 389h1.0v1.0h-1.0zM475 395h1.0v2.0h-1.0zM443 480h1.0v2.0h-1.0zM445 410h1.0v1.0h-1.0zM452 406h1.0v1.0h-1.0zM445 473h1.0v1.0h-1.0zM491 384h1.0v1.0h-1.0z" fill="#FF9F00"/>
<path d="M440 434h1.0v1.0h-1.0zM433 428h1.0v2.0h-1.0zM436 433h1.0v1.0h-1.0zM434 434h1.0v1.0h-1.0zM437 426h1.0v2.0h-1.0zM439 435h1.0v1.0h-1.0zM434 430h1.0v1.0h-1.0zM435 434h1.0v1.0h-1.0zM438 421h1.0v1.0h-1.0zM438 440h1.0v1.0h-1.0zM440 426h1.0v1.0h-1.0zM441 427h1.0v1.0h-1.0zM441 424h1.0v1.0h-1.0zM437 433h1.0v1.0h-1.0zM436 436h1.0v1.0h-1.0zM439 423h1.0v1.0h-1.0zM432 440h1.0v1.0h-1.0zM437 427h1.0v2.0h-1.0zM433 428h1.0v2.0h-1.0zM440 439h1.0v1.0h-1.0zM441 422h2.0v1.0h-2.0zM435 444h1.0v1.0h-1.0zM438 434h1.0v1.0h-1.0zM437 437h1.0v1.0h-1.0zM433 428h1.0v1.0h-1.0zM435 443h1.0v1.0h-1.0zM438 444h1.0v1.0h-1.0zM431 442h2.0v1.0h-2.0zM432 434h1.0v1.0h-1.0zM438 439h1.0v1.0h-1.0z" fill="#8B0000"/>
<path d="M482 391h1.0v1.0h-1.0zM476 394h1.0v1.0h-1.0zM474 392h1.0v1.0h-1.0zM476 396h1.0v1.0h-1.0zM479 397h1.0v1.0h-1.0zM475 398h1.0v2.0h-1.0zM474 390h1.0v1.0h-1.0zM475 392h1.0v1.0h-1.0zM480 397h1.0v1.0h-1.0zM476 397h1.0v1.0h-1.0zM475 391h1.0v1.0h-1.0zM482 393h1.0v1.0h-1.0zM480 392h1.0v1.0h-1.0zM478 397h1.0v1.0h-1.0zM478 391h1.0v1.0h-1.0z" fill="#8B0000"/>
<path d="M452 497h1.0v1.0h-1.0zM448 481h1.0v2.0h-1.0zM453 492h2.0v1.0h-2.0zM449 481h1.0v1.0h-1.0zM451 498h1.0v1.0h-1.0zM454 496h1.0v1.0h-1.0zM449 487h1.0v1.0h-1.0zM455 499h1.0v1.0h-1.0zM456 503h1.0v1.0h-1.0zM447 479h1.0v1.0h-1.0zM457 498h1.0v1.0h-1.0zM450 483h1.0v1.0h-1.0zM454 498h1.0v2.0h-1.0zM453 490h1.0v1.0h-1.0zM448 482h1.0v1.0h-1.0zM454 498h1.0v1.0h-1.0zM455 499h1.0v1.0h-1.0zM451 488h1.0v1.0h-1.0zM452 488h1.0v1.0h-1.0zM457 500h1.0v2.0h-1.0zM449 477h2.0v1.0h-2.0zM451 482h1.0v1.0h-1.0zM450 481h1.0v1.0h-1.0zM455 493h1.0v1.0h-1.0zM452 500h2.0v1.0h-2.0zM458 502h1.0v1.0h-1.0zM449 486h1.0v1.0h-1.0zM457 500h2.0v2.0h-2.0zM447 481h1.0v1.0h-1.0zM452 490h1.0v1.0h-1.0zM450 487h1.0v1.0h-1.0zM451 491h1.0v1.0h-1.0zM453 504h1.0v1.0h-1.0zM452 497h1.0v1.0h-1.0zM454 503h1.0v1.0h-1.0zM454 499h1.0v2.0h-1.0zM453 500h1.0v1.0h-1.0zM452 490h1.0v1.0h-1.0zM450 477h1.0v1.0h-1.0zM450 488h2.0v1.0h-2.0zM453 494h1.0v1.0h-1.0zM452 494h1.0v1.0h-1.0z" fill="#8B0000"/>
<path d="M536 335h1.0v1.0h-1.0zM519 364h1.0v1.0h-1.0zM505 377h1.0v1.0h-1.0zM521 353h1.0v1.0h-1.0zM527 339h1.0v1.0h-1.0zM511 352h2.0v1.0h-2.0zM536 345h1.0v1.0h-1.0zM531 350h1.0v1.0h-1.0zM528 351h1.0v1.0h-1.0zM519 345h1.0v1.0h-1.0zM540 341h1.0v1.0h-1.0zM524 349h2.0v1.0h-2.0zM523 367h2.0v1.0h-2.0zM507 371h1.0v1.0h-1.0zM526 354h1.0v1.0h-1.0zM501 374h1.0v1.0h-1.0zM526 344h1.0v2.0h-1.0zM502 378h1.0v2.0h-1.0zM533 341h1.0v1.0h-1.0zM523 349h1.0v1.0h-1.0zM511 356h1.0v1.0h-1.0zM525 350h1.0v1.0h-1.0zM521 340h1.0v1.0h-1.0zM520 360h1.0v2.0h-1.0zM495 378h1.0v1.0h-1.0zM517 363h1.0v1.0h-1.0zM527 351h1.0v1.0h-1.0zM534 334h1.0v1.0h-1.0zM533 335h1.0v1.0h-1.0zM514 347h1.0v1.0h-1.0zM527 351h1.0v2.0h-1.0zM510 373h1.0v1.0h-1.0zM516 358h1.0v1.0h-1.0zM512 366h1.0v1.0h-1.0zM505 373h1.0v2.0h-1.0zM524 344h1.0v1.0h-1.0zM532 341h1.0v2.0h-1.0zM518 367h1.0v1.0h-1.0zM510 372h1.0v1.0h-1.0zM516 360h1.0v1.0h-1.0zM529 347h1.0v1.0h-1.0zM494 382h2.0v1.0h-2.0zM529 341h2.0v1.0h-2.0zM535 337h1.0v1.0h-1.0zM509 377h1.0v1.0h-1.0zM526 343h1.0v1.0h-1.0z" fill="#8B0000"/>
<path d="M505 378h1.0v1.0h-1.0zM533 343h1.0v1.0h-1.0zM523 337h1.0v2.0h-1.0zM514 360h1.0v1.0h-1.0zM530 341h1.0v2.0h-1.0zM525 342h1.0v1.0h-1.0zM526 340h1.0v1.0h-1.0z" fill="#B90000"/>
<path d="M540 337h1.0v1.0h-1.0zM534 344h1.0v1.0h-1.0z" fill="#FF4400"/>
<path d="M523 344h1.0v1.0h-1.0zM534 343h2.0v2.0h-2.0zM542 332h1.0v1.0h-1.0zM533 345h1.0v2.0h-1.0zM515 344h1.0v1.0h-1.0zM518 358h1.0v1.0h-1.0zM522 352h1.0v1.0h-1.0z" fill="#FF9F00"/>
<path d="M527 347h1.0v1.0h-1.0zM545 347h1.0v1.0h-1.0zM529 357h1.0v1.0h-1.0zM540 337h1.0v1.0h-1.0zM540 354h2.0v1.0h-2.0zM543 348h1.0v1.0h-1.0zM543 340h1.0v1.0h-1.0zM530 339h1.0v1.0h-1.0zM542 336h1.0v1.0h-1.0zM524 339h1.0v1.0h-1.0z" fill="#FFFB00"/>
<path d="M532 357h2.0v1.0h-2.0zM533 357h1.0v1.0h-1.0zM533 351h1.0v1.0h-1.0zM536 337h1.0v1.0h-1.0zM538 341h1.0v1.0h-1.0zM537 354h2.0v1.0h-2.0zM537 348h1.0v1.0h-1.0zM545 344h1.0v1.0h-1.0zM536 345h1.0v1.0h-1.0z" fill="#FFCD00"/>
<path d="M529 355h1.0v1.0h-1.0zM528 349h1.0v2.0h-1.0zM540 338h1.0v1.0h-1.0zM543 338h1.0v1.0h-1.0zM534 341h1.0v1.0h-1.0zM544 344h1.0v1.0h-1.0z" fill="#fff"/>
<path d="M527 339h1.0v1.0h-1.0zM527 341h1.0v1.0h-1.0zM531 352h1.0v1.0h-1.0zM528 352h2.0v1.0h-2.0zM542 353h1.0v1.0h-1.0z" fill="#D5FF2A"/>
<path d="M545 287h1.0v2.0h-1.0zM548 285h1.0v1.0h-1.0zM549 286h1.0v2.0h-1.0zM552 295h2.0v1.0h-2.0zM543 295h2.0v2.0h-2.0zM547 287h1.0v2.0h-1.0zM545 281h1.0v1.0h-1.0zM550 296h1.0v2.0h-1.0zM556 301h1.0v2.0h-1.0zM543 283h1.0v1.0h-1.0zM543 284h1.0v1.0h-1.0zM544 300h1.0v1.0h-1.0zM556 300h1.0v1.0h-1.0zM542 283h1.0v1.0h-1.0zM547 280h1.0v1.0h-1.0zM553 299h1.0v1.0h-1.0zM554 296h1.0v1.0h-1.0zM542 285h1.0v1.0h-1.0zM542 289h1.0v1.0h-1.0zM546 293h1.0v1.0h-1.0zM539 284h1.0v1.0h-1.0z" fill="#8B0000"/>
<path d="M547 304h2.0v2.0h-2.0zM543 291h1.0v1.0h-1.0zM544 292h1.0v1.0h-1.0zM549 298h1.0v1.0h-1.0zM544 281h1.0v1.0h-1.0z" fill="#FF9F00"/>
<path d="M544 298h1.0v1.0h-1.0zM543 283h1.0v1.0h-1.0zM556 299h2.0v1.0h-2.0z" fill="#B90000"/>
<path d="M551 295h1.0v1.0h-1.0z" fill="#FF4400"/>
<path d="M565 278h2.0v1.0h-2.0zM555 273h1.0v1.0h-1.0zM563 276h1.0v1.0h-1.0zM562 280h1.0v1.0h-1.0zM558 274h1.0v1.0h-1.0zM559 273h1.0v1.0h-1.0zM558 278h1.0v1.0h-1.0zM565 280h1.0v1.0h-1.0z" fill="#8B0000"/>
<path d="M565 284h1.0v1.0h-1.0z" fill="#FF4400"/>
<path d="M558 274h1.0v1.0h-1.0z" fill="#B90000"/>
<path d="M540 284h1.0v1.0h-1.0zM531 288h2.0v1.0h-2.0zM534 295h1.0v1.0h-1.0zM533 290h1.0v1.0h-1.0zM543 285h1.0v1.0h-1.0zM542 287h1.0v2.0h-1.0z" fill="#FFCD00"/>
<path d="M543 292h1.0v1.0h-1.0zM534 289h1.0v1.0h-1.0zM542 299h1.0v1.0h-1.0zM544 293h2.0v1.0h-2.0z" fill="#fff"/>
<path d="M533 290h1.0v1.0h-1.0zM541 300h1.0v2.0h-1.0zM535 283h1.0v2.0h-1.0zM546 299h1.0v1.0h-1.0zM534 288h1.0v1.0h-1.0zM534 281h1.0v1.0h-1.0zM539 301h1.0v1.0h-1.0zM543 293h1.0v2.0h-1.0z" fill="#D5FF2A"/>
<path d="M564 276h1.0v1.0h-1.0zM567 279h1.0v1.0h-1.0zM567 280h1.0v2.0h-1.0zM564 283h1.0v1.0h-1.0z" fill="#8B0000"/>
<path d="M567 277h2.0v1.0h-2.0z" fill="#FFCD00"/>
<path d="M565 286h1.0v1.0h-1.0z" fill="#FFFB00"/>
<path d="M576 256h1.0v2.0h-1.0zM573 256h1.0v1.0h-1.0zM585 253h2.0v1.0h-2.0zM600 256h1.0v1.0h-1.0zM581 253h1.0v1.0h-1.0zM596 258h1.0v1.0h-1.0zM583 259h2.0v1.0h-2.0zM579 258h1.0v2.0h-1.0z" fill="#8B0000"/>
<path d="M627 236h2.0v1.0h-2.0zM637 223h2.0v1.0h-2.0zM627 235h1.0v1.0h-1.0zM638 238h1.0v1.0h-1.0zM633 236h1.0v1.0h-1.0zM631 240h1.0v1.0h-1.0zM631 235h1.0v1.0h-1.0z" fill="#8B0000"/>
<path d="M554 272h1.0v2.0h-1.0zM540 283h1.0v2.0h-1.0zM546 288h1.0v1.0h-1.0z" fill="#FF9F00"/>
<path d="M565 284h1.0v1.0h-1.0zM545 299h1.0v1.0h-1.0zM552 274h1.0v1.0h-1.0zM557 289h1.0v1.0h-1.0zM540 278h1.0v1.0h-1.0zM546 296h1.0v1.0h-1.0zM555 301h1.0v1.0h-1.0zM545 304h1.0v1.0h-1.0zM547 306h1.0v1.0h-1.0zM537 283h1.0v1.0h-1.0zM553 284h1.0v1.0h-1.0zM543 290h1.0v2.0h-1.0zM561 287h1.0v1.0h-1.0zM545 285h2.0v2.0h-2.0zM542 278h1.0v1.0h-1.0zM553 289h1.0v1.0h-1.0zM545 291h1.0v1.0h-1.0z" fill="#8B0000"/>
<path d="M542 288h1.0v1.0h-1.0zM546 287h1.0v1.0h-1.0zM562 281h1.0v1.0h-1.0zM543 306h1.0v1.0h-1.0zM536 304h1.0v1.0h-1.0zM563 280h1.0v2.0h-1.0z" fill="#FF4400"/>
<path d="M541 291h1.0v1.0h-1.0z" fill="#B90000"/>
</g>
<rect x="129.40" y="162.00" width="710.80" height="698.30" fill="none" stroke="#1a1a1a" stroke-width="1.05"/>
<line x1="112.5" y1="832.70" x2="129.40" y2="832.70" stroke="#111" stroke-width="1"/>
<text x="97.6" y="840.70" font-size="22.7" text-anchor="end">10°N</text>
<line x1="112.5" y1="739.10" x2="129.40" y2="739.10" stroke="#111" stroke-width="1"/>
<text x="97.6" y="747.10" font-size="22.7" text-anchor="end">15°N</text>
<line x1="112.5" y1="645.50" x2="129.40" y2="645.50" stroke="#111" stroke-width="1"/>
<text x="97.6" y="653.50" font-size="22.7" text-anchor="end">20°N</text>
<line x1="112.5" y1="551.90" x2="129.40" y2="551.90" stroke="#111" stroke-width="1"/>
<text x="97.6" y="559.90" font-size="22.7" text-anchor="end">25°N</text>
<line x1="112.5" y1="458.30" x2="129.40" y2="458.30" stroke="#111" stroke-width="1"/>
<text x="97.6" y="466.30" font-size="22.7" text-anchor="end">30°N</text>
<line x1="112.5" y1="364.70" x2="129.40" y2="364.70" stroke="#111" stroke-width="1"/>
<text x="97.6" y="372.70" font-size="22.7" text-anchor="end">35°N</text>
<line x1="112.5" y1="271.10" x2="129.40" y2="271.10" stroke="#111" stroke-width="1"/>
<text x="97.6" y="279.10" font-size="22.7" text-anchor="end">40°N</text>
<line x1="112.5" y1="177.50" x2="129.40" y2="177.50" stroke="#111" stroke-width="1"/>
<text x="97.6" y="185.50" font-size="22.7" text-anchor="end">45°N</text>
<line x1="185.25" y1="860.30" x2="185.25" y2="876.7" stroke="#111" stroke-width="1"/>
<text x="184.85" y="909.6" font-size="22.7" text-anchor="middle">95°W</text>
<line x1="278.92" y1="860.30" x2="278.92" y2="876.7" stroke="#111" stroke-width="1"/>
<text x="278.52" y="909.6" font-size="22.7" text-anchor="middle">90°W</text>
<line x1="372.58" y1="860.30" x2="372.58" y2="876.7" stroke="#111" stroke-width="1"/>
<text x="372.18" y="909.6" font-size="22.7" text-anchor="middle">85°W</text>
<line x1="466.25" y1="860.30" x2="466.25" y2="876.7" stroke="#111" stroke-width="1"/>
<text x="465.85" y="909.6" font-size="22.7" text-anchor="middle">80°W</text>
<line x1="559.91" y1="860.30" x2="559.91" y2="876.7" stroke="#111" stroke-width="1"/>
<text x="559.51" y="909.6" font-size="22.7" text-anchor="middle">75°W</text>
<line x1="653.58" y1="860.30" x2="653.58" y2="876.7" stroke="#111" stroke-width="1"/>
<text x="653.18" y="909.6" font-size="22.7" text-anchor="middle">70°W</text>
<line x1="747.24" y1="860.30" x2="747.24" y2="876.7" stroke="#111" stroke-width="1"/>
<text x="746.84" y="909.6" font-size="22.7" text-anchor="middle">65°W</text>
<text x="484.5" y="944.6" font-size="22.7" text-anchor="middle">Longitude</text>
<text transform="translate(41.2,511) rotate(-90)" font-size="22.7" text-anchor="middle">Latitude</text>
<text x="164" y="134" font-size="25.5">2021081402</text>
<text x="655.8" y="128.6" font-size="25.5">Elevation (m)</text>
<rect x="878.60" y="168.90" width="42.30" height="31.40" fill="#8B0000"/>
<rect x="878.60" y="200.00" width="42.30" height="31.40" fill="#B90000"/>
<rect x="878.60" y="231.09" width="42.30" height="31.40" fill="#E70000"/>
<rect x="878.60" y="262.19" width="42.30" height="31.40" fill="#FF1600"/>
<rect x="878.60" y="293.28" width="42.30" height="31.40" fill="#FF4400"/>
<rect x="878.60" y="324.38" width="42.30" height="31.40" fill="#FF7100"/>
<rect x="878.60" y="355.47" width="42.30" height="31.40" fill="#FF9F00"/>
<rect x="878.60" y="386.57" width="42.30" height="31.40" fill="#FFCD00"/>
<rect x="878.60" y="417.66" width="42.30" height="31.40" fill="#FFFB00"/>
<rect x="878.60" y="448.76" width="42.30" height="31.40" fill="#D5FF2A"/>
<rect x="878.60" y="479.85" width="42.30" height="31.40" fill="#A7FF58"/>
<rect x="878.60" y="510.95" width="42.30" height="31.40" fill="#79FF86"/>
<rect x="878.60" y="542.05" width="42.30" height="31.40" fill="#4BFFB4"/>
<rect x="878.60" y="573.14" width="42.30" height="31.40" fill="#1DFFE2"/>
<rect x="878.60" y="604.24" width="42.30" height="31.40" fill="#00EEFF"/>
<rect x="878.60" y="635.33" width="42.30" height="31.40" fill="#00C1FF"/>
<rect x="878.60" y="666.43" width="42.30" height="31.40" fill="#0093FF"/>
<rect x="878.60" y="697.52" width="42.30" height="31.40" fill="#0065FF"/>
<rect x="878.60" y="728.62" width="42.30" height="31.40" fill="#0037FF"/>
<rect x="878.60" y="759.71" width="42.30" height="31.40" fill="#0009FF"/>
<rect x="878.60" y="790.81" width="42.30" height="31.40" fill="#0000DA"/>
<rect x="878.60" y="821.90" width="42.30" height="31.40" fill="#0000AC"/>
<line x1="878.60" y1="200.00" x2="920.90" y2="200.00" stroke="#000" stroke-opacity="0.75" stroke-width="0.7"/>
<line x1="878.60" y1="231.09" x2="920.90" y2="231.09" stroke="#000" stroke-opacity="0.75" stroke-width="0.7"/>
<line x1="878.60" y1="262.19" x2="920.90" y2="262.19" stroke="#000" stroke-opacity="0.75" stroke-width="0.7"/>
<line x1="878.60" y1="293.28" x2="920.90" y2="293.28" stroke="#000" stroke-opacity="0.75" stroke-width="0.7"/>
<line x1="878.60" y1="324.38" x2="920.90" y2="324.38" stroke="#000" stroke-opacity="0.75" stroke-width="0.7"/>
<line x1="878.60" y1="355.47" x2="920.90" y2="355.47" stroke="#000" stroke-opacity="0.75" stroke-width="0.7"/>
<line x1="878.60" y1="386.57" x2="920.90" y2="386.57" stroke="#000" stroke-opacity="0.75" stroke-width="0.7"/>
<line x1="878.60" y1="417.66" x2="920.90" y2="417.66" stroke="#000" stroke-opacity="0.75" stroke-width="0.7"/>
<line x1="878.60" y1="448.76" x2="920.90" y2="448.76" stroke="#000" stroke-opacity="0.75" stroke-width="0.7"/>
<line x1="878.60" y1="479.85" x2="920.90" y2="479.85" stroke="#000" stroke-opacity="0.75" stroke-width="0.7"/>
<line x1="878.60" y1="510.95" x2="920.90" y2="510.95" stroke="#000" stroke-opacity="0.75" stroke-width="0.7"/>
<line x1="878.60" y1="542.05" x2="920.90" y2="542.05" stroke="#000" stroke-opacity="0.75" stroke-width="0.7"/>
<line x1="878.60" y1="573.14" x2="920.90" y2="573.14" stroke="#000" stroke-opacity="0.75" stroke-width="0.7"/>
<line x1="878.60" y1="604.24" x2="920.90" y2="604.24" stroke="#000" stroke-opacity="0.75" stroke-width="0.7"/>
<line x1="878.60" y1="635.33" x2="920.90" y2="635.33" stroke="#000" stroke-opacity="0.75" stroke-width="0.7"/>
<line x1="878.60" y1="666.43" x2="920.90" y2="666.43" stroke="#000" stroke-opacity="0.75" stroke-width="0.7"/>
<line x1="878.60" y1="697.52" x2="920.90" y2="697.52" stroke="#000" stroke-opacity="0.75" stroke-width="0.7"/>
<line x1="878.60" y1="728.62" x2="920.90" y2="728.62" stroke="#000" stroke-opacity="0.75" stroke-width="0.7"/>
<line x1="878.60" y1="759.71" x2="920.90" y2="759.71" stroke="#000" stroke-opacity="0.75" stroke-width="0.7"/>
<line x1="878.60" y1="790.81" x2="920.90" y2="790.81" stroke="#000" stroke-opacity="0.75" stroke-width="0.7"/>
<line x1="878.60" y1="821.90" x2="920.90" y2="821.90" stroke="#000" stroke-opacity="0.75" stroke-width="0.7"/>
<rect x="878.60" y="168.90" width="42.30" height="684.10" fill="none" stroke="#000" stroke-opacity="0.55" stroke-width="0.6"/>
<text x="960" y="211.60" font-size="31" text-anchor="middle">2</text>
<text x="960" y="273.79" font-size="31" text-anchor="middle">1.6</text>
<text x="960" y="335.98" font-size="31" text-anchor="middle">1.2</text>
<text x="960" y="398.17" font-size="31" text-anchor="middle">0.8</text>
<text x="960" y="460.36" font-size="31" text-anchor="middle">0.4</text>
<text x="960" y="522.55" font-size="31" text-anchor="middle">0</text>
<text x="960" y="584.74" font-size="31" text-anchor="middle">-0.4</text>
<text x="960" y="646.93" font-size="31" text-anchor="middle">-0.8</text>
<text x="960" y="709.12" font-size="31" text-anchor="middle">-1.2</text>
<text x="960" y="771.31" font-size="31" text-anchor="middle">-1.6</text>
<text x="960" y="833.50" font-size="31" text-anchor="middle">-2</text>
</svg>
</body></html>
